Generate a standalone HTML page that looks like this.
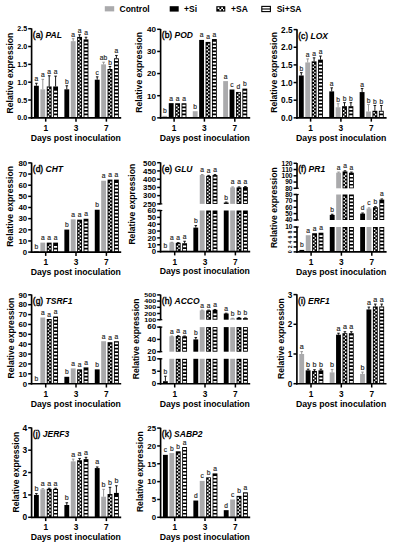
<!DOCTYPE html>
<html><head><meta charset="utf-8"><style>
html,body{margin:0;padding:0;background:#fff;}
svg{display:block;font-family:"Liberation Sans", sans-serif;}
</style></head><body>
<svg width="400" height="550" viewBox="0 0 400 550">
<rect width="400" height="550" fill="#fff"/>
<rect x="104.8" y="6.2" width="9.4" height="5.2" fill="#aaaaac"/><text x="119.5" y="11.7" font-size="8.5" font-weight="bold">Control</text><rect x="169.7" y="6.2" width="9" height="5.4" fill="#000"/><text x="184" y="11.7" font-size="8.5" font-weight="bold">+Si</text><rect x="216.3" y="6.2" width="9" height="5.4" fill="#000"/><path d="M217.6 7.3h1.8v1.6h-1.8zM221.2 7.3h1.8v1.6h-1.8zM219.4 8.9h1.8v1.6h-1.8zM223 8.9h1.2v1.6h-1.2z" fill="#fff"/><text x="231" y="11.7" font-size="8.5" font-weight="bold">+SA</text><rect x="261.8" y="6.4" width="8.6" height="5.2" fill="#fff" stroke="#000" stroke-width="1.1"/><line x1="261.8" y1="9" x2="270.4" y2="9" stroke="#000" stroke-width="1.1"/><text x="276.7" y="11.7" font-size="8.5" font-weight="bold">Si+SA</text>
<rect x="33.97" y="85.76" width="4.85" height="32.09" fill="#000"/><path d="M36.4 85.76V83.26M35.1 83.26h2.6" stroke="#000" stroke-width="0.9" fill="none"/><text x="36.4" y="81.26" font-size="6.7" fill="#222" stroke="#222" stroke-width="0.15" text-anchor="middle">a</text><rect x="40.37" y="89.32" width="4.85" height="28.53" fill="#aaaaac"/><path d="M42.8 89.32V79.34M41.5 79.34h2.6" stroke="#8c8c8c" stroke-width="0.9" fill="none"/><text x="42.8" y="77.34" font-size="6.7" fill="#222" stroke="#222" stroke-width="0.15" text-anchor="middle">a</text><rect x="46.77" y="86.47" width="4.85" height="31.38" fill="#000"/><path d="M47.67 115.4h1.42v1.55h-1.42zM49.3 113.65h1.42v1.55h-1.42zM47.67 111.9h1.42v1.55h-1.42zM49.3 110.15h1.42v1.55h-1.42zM47.67 108.4h1.42v1.55h-1.42zM49.3 106.65h1.42v1.55h-1.42zM47.67 104.9h1.42v1.55h-1.42zM49.3 103.15h1.42v1.55h-1.42zM47.67 101.4h1.42v1.55h-1.42zM49.3 99.65h1.42v1.55h-1.42zM47.67 97.9h1.42v1.55h-1.42zM49.3 96.15h1.42v1.55h-1.42zM47.67 94.4h1.42v1.55h-1.42zM49.3 92.65h1.42v1.55h-1.42zM47.67 90.9h1.42v1.55h-1.42zM49.3 89.15h1.42v1.55h-1.42zM47.67 87.4h1.42v1.55h-1.42z" fill="#fff"/><path d="M49.2 86.47V75.77M47.9 75.77h2.6" stroke="#000" stroke-width="0.9" fill="none"/><text x="49.2" y="73.77" font-size="6.7" fill="#222" stroke="#222" stroke-width="0.15" text-anchor="middle">a</text><rect x="53.17" y="86.47" width="4.85" height="31.38" fill="#000"/><path d="M54.02 115.15h3.15v1.8h-3.15zM54.02 111.65h3.15v1.8h-3.15zM54.02 108.15h3.15v1.8h-3.15zM54.02 104.65h3.15v1.8h-3.15zM54.02 101.15h3.15v1.8h-3.15zM54.02 97.65h3.15v1.8h-3.15zM54.02 94.15h3.15v1.8h-3.15zM54.02 90.65h3.15v1.8h-3.15z" fill="#fff"/><path d="M55.6 86.47V76.13M54.3 76.13h2.6" stroke="#000" stroke-width="0.9" fill="none"/><text x="55.6" y="74.13" font-size="6.7" fill="#222" stroke="#222" stroke-width="0.15" text-anchor="middle">a</text><rect x="64.38" y="89.32" width="4.85" height="28.53" fill="#000"/><path d="M66.8 89.32V85.76M65.5 85.76h2.6" stroke="#000" stroke-width="0.9" fill="none"/><text x="66.8" y="83.76" font-size="6.7" fill="#222" stroke="#222" stroke-width="0.15" text-anchor="middle">b</text><rect x="70.78" y="41.18" width="4.85" height="76.67" fill="#aaaaac"/><path d="M73.2 41.18V38.68M71.9 38.68h2.6" stroke="#8c8c8c" stroke-width="0.9" fill="none"/><text x="73.2" y="36.68" font-size="6.7" fill="#222" stroke="#222" stroke-width="0.15" text-anchor="middle">a</text><rect x="77.17" y="36.9" width="4.85" height="80.95" fill="#000"/><path d="M78.07 115.4h1.42v1.55h-1.42zM79.7 113.65h1.42v1.55h-1.42zM78.07 111.9h1.42v1.55h-1.42zM79.7 110.15h1.42v1.55h-1.42zM78.07 108.4h1.42v1.55h-1.42zM79.7 106.65h1.42v1.55h-1.42zM78.07 104.9h1.42v1.55h-1.42zM79.7 103.15h1.42v1.55h-1.42zM78.07 101.4h1.42v1.55h-1.42zM79.7 99.65h1.42v1.55h-1.42zM78.07 97.9h1.42v1.55h-1.42zM79.7 96.15h1.42v1.55h-1.42zM78.07 94.4h1.42v1.55h-1.42zM79.7 92.65h1.42v1.55h-1.42zM78.07 90.9h1.42v1.55h-1.42zM79.7 89.15h1.42v1.55h-1.42zM78.07 87.4h1.42v1.55h-1.42zM79.7 85.65h1.42v1.55h-1.42zM78.07 83.9h1.42v1.55h-1.42zM79.7 82.15h1.42v1.55h-1.42zM78.07 80.4h1.42v1.55h-1.42zM79.7 78.65h1.42v1.55h-1.42zM78.07 76.9h1.42v1.55h-1.42zM79.7 75.15h1.42v1.55h-1.42zM78.07 73.4h1.42v1.55h-1.42zM79.7 71.65h1.42v1.55h-1.42zM78.07 69.9h1.42v1.55h-1.42zM79.7 68.15h1.42v1.55h-1.42zM78.07 66.4h1.42v1.55h-1.42zM79.7 64.65h1.42v1.55h-1.42zM78.07 62.9h1.42v1.55h-1.42zM79.7 61.15h1.42v1.55h-1.42zM78.07 59.4h1.42v1.55h-1.42zM79.7 57.65h1.42v1.55h-1.42zM78.07 55.9h1.42v1.55h-1.42zM79.7 54.15h1.42v1.55h-1.42zM78.07 52.4h1.42v1.55h-1.42zM79.7 50.65h1.42v1.55h-1.42zM78.07 48.9h1.42v1.55h-1.42zM79.7 47.15h1.42v1.55h-1.42zM78.07 45.4h1.42v1.55h-1.42zM79.7 43.65h1.42v1.55h-1.42zM78.07 41.9h1.42v1.55h-1.42zM79.7 40.15h1.42v1.55h-1.42zM78.07 38.4h1.42v1.55h-1.42z" fill="#fff"/><path d="M79.6 36.9V34.76M78.3 34.76h2.6" stroke="#000" stroke-width="0.9" fill="none"/><text x="79.6" y="32.76" font-size="6.7" fill="#222" stroke="#222" stroke-width="0.15" text-anchor="middle">a</text><rect x="83.58" y="39.4" width="4.85" height="78.45" fill="#000"/><path d="M84.42 115.15h3.15v1.8h-3.15zM84.42 111.65h3.15v1.8h-3.15zM84.42 108.15h3.15v1.8h-3.15zM84.42 104.65h3.15v1.8h-3.15zM84.42 101.15h3.15v1.8h-3.15zM84.42 97.65h3.15v1.8h-3.15zM84.42 94.15h3.15v1.8h-3.15zM84.42 90.65h3.15v1.8h-3.15zM84.42 87.15h3.15v1.8h-3.15zM84.42 83.65h3.15v1.8h-3.15zM84.42 80.15h3.15v1.8h-3.15zM84.42 76.65h3.15v1.8h-3.15zM84.42 73.15h3.15v1.8h-3.15zM84.42 69.65h3.15v1.8h-3.15zM84.42 66.15h3.15v1.8h-3.15zM84.42 62.65h3.15v1.8h-3.15zM84.42 59.15h3.15v1.8h-3.15zM84.42 55.65h3.15v1.8h-3.15zM84.42 52.15h3.15v1.8h-3.15zM84.42 48.65h3.15v1.8h-3.15zM84.42 45.15h3.15v1.8h-3.15zM84.42 41.65h3.15v1.8h-3.15z" fill="#fff"/><path d="M86 39.4V37.26M84.7 37.26h2.6" stroke="#000" stroke-width="0.9" fill="none"/><text x="86" y="35.26" font-size="6.7" fill="#222" stroke="#222" stroke-width="0.15" text-anchor="middle">a</text><rect x="94.78" y="79.69" width="4.85" height="38.16" fill="#000"/><path d="M97.2 79.69V76.84M95.9 76.84h2.6" stroke="#000" stroke-width="0.9" fill="none"/><text x="97.2" y="74.84" font-size="6.7" fill="#222" stroke="#222" stroke-width="0.15" text-anchor="middle">c</text><rect x="101.18" y="64.36" width="4.85" height="53.49" fill="#aaaaac"/><path d="M103.6 64.36V62.22M102.3 62.22h2.6" stroke="#8c8c8c" stroke-width="0.9" fill="none"/><text x="103.6" y="60.22" font-size="6.7" fill="#222" stroke="#222" stroke-width="0.15" text-anchor="middle">ab</text><rect x="107.58" y="69" width="4.85" height="48.85" fill="#000"/><path d="M108.47 115.4h1.42v1.55h-1.42zM110.1 113.65h1.42v1.55h-1.42zM108.47 111.9h1.42v1.55h-1.42zM110.1 110.15h1.42v1.55h-1.42zM108.47 108.4h1.42v1.55h-1.42zM110.1 106.65h1.42v1.55h-1.42zM108.47 104.9h1.42v1.55h-1.42zM110.1 103.15h1.42v1.55h-1.42zM108.47 101.4h1.42v1.55h-1.42zM110.1 99.65h1.42v1.55h-1.42zM108.47 97.9h1.42v1.55h-1.42zM110.1 96.15h1.42v1.55h-1.42zM108.47 94.4h1.42v1.55h-1.42zM110.1 92.65h1.42v1.55h-1.42zM108.47 90.9h1.42v1.55h-1.42zM110.1 89.15h1.42v1.55h-1.42zM108.47 87.4h1.42v1.55h-1.42zM110.1 85.65h1.42v1.55h-1.42zM108.47 83.9h1.42v1.55h-1.42zM110.1 82.15h1.42v1.55h-1.42zM108.47 80.4h1.42v1.55h-1.42zM110.1 78.65h1.42v1.55h-1.42zM108.47 76.9h1.42v1.55h-1.42zM110.1 75.15h1.42v1.55h-1.42zM108.47 73.4h1.42v1.55h-1.42zM110.1 71.65h1.42v1.55h-1.42zM108.47 69.9h1.42v1.55h-1.42z" fill="#fff"/><path d="M110 69V66.5M108.7 66.5h2.6" stroke="#000" stroke-width="0.9" fill="none"/><text x="110" y="64.5" font-size="6.7" fill="#222" stroke="#222" stroke-width="0.15" text-anchor="middle">b</text><rect x="113.98" y="58.3" width="4.85" height="59.55" fill="#000"/><path d="M114.83 115.15h3.15v1.8h-3.15zM114.83 111.65h3.15v1.8h-3.15zM114.83 108.15h3.15v1.8h-3.15zM114.83 104.65h3.15v1.8h-3.15zM114.83 101.15h3.15v1.8h-3.15zM114.83 97.65h3.15v1.8h-3.15zM114.83 94.15h3.15v1.8h-3.15zM114.83 90.65h3.15v1.8h-3.15zM114.83 87.15h3.15v1.8h-3.15zM114.83 83.65h3.15v1.8h-3.15zM114.83 80.15h3.15v1.8h-3.15zM114.83 76.65h3.15v1.8h-3.15zM114.83 73.15h3.15v1.8h-3.15zM114.83 69.65h3.15v1.8h-3.15zM114.83 66.15h3.15v1.8h-3.15zM114.83 62.65h3.15v1.8h-3.15zM114.83 59.15h3.15v1.8h-3.15z" fill="#fff"/><path d="M116.4 58.3V55.45M115.1 55.45h2.6" stroke="#000" stroke-width="0.9" fill="none"/><text x="116.4" y="53.45" font-size="6.7" fill="#222" stroke="#222" stroke-width="0.15" text-anchor="middle">a</text><line x1="31.6" y1="118.67" x2="31.6" y2="28.4" stroke="#000" stroke-width="1.65"/><line x1="28.2" y1="117.85" x2="31.6" y2="117.85" stroke="#000" stroke-width="1.5"/><text x="27.1" y="120.41" font-size="7.1" font-weight="bold" text-anchor="end">0.0</text><line x1="28.2" y1="100.02" x2="31.6" y2="100.02" stroke="#000" stroke-width="1.5"/><text x="27.1" y="102.58" font-size="7.1" font-weight="bold" text-anchor="end">0.5</text><line x1="28.2" y1="82.19" x2="31.6" y2="82.19" stroke="#000" stroke-width="1.5"/><text x="27.1" y="84.75" font-size="7.1" font-weight="bold" text-anchor="end">1.0</text><line x1="28.2" y1="64.36" x2="31.6" y2="64.36" stroke="#000" stroke-width="1.5"/><text x="27.1" y="66.92" font-size="7.1" font-weight="bold" text-anchor="end">1.5</text><line x1="28.2" y1="46.53" x2="31.6" y2="46.53" stroke="#000" stroke-width="1.5"/><text x="27.1" y="49.09" font-size="7.1" font-weight="bold" text-anchor="end">2.0</text><line x1="28.2" y1="28.7" x2="31.6" y2="28.7" stroke="#000" stroke-width="1.5"/><text x="27.1" y="31.26" font-size="7.1" font-weight="bold" text-anchor="end">2.5</text><line x1="30.78" y1="117.85" x2="121.2" y2="117.85" stroke="#000" stroke-width="1.65"/><line x1="45.7" y1="117.85" x2="45.7" y2="121.65" stroke="#000" stroke-width="1.5"/><text x="45.7" y="130.75" font-size="8.3" font-weight="bold" text-anchor="middle">1</text><line x1="76" y1="117.85" x2="76" y2="121.65" stroke="#000" stroke-width="1.5"/><text x="76" y="130.75" font-size="8.3" font-weight="bold" text-anchor="middle">3</text><line x1="106.4" y1="117.85" x2="106.4" y2="121.65" stroke="#000" stroke-width="1.5"/><text x="106.4" y="130.75" font-size="8.3" font-weight="bold" text-anchor="middle">7</text><text x="75.8" y="140.65" font-size="8.7" font-weight="bold" text-anchor="middle">Days post inoculation</text><text transform="translate(12.7 113.4) rotate(-90)" font-size="8.6" font-weight="bold">Relative expression</text><text x="32.8" y="37.8" font-size="8.5"><tspan stroke="#000" stroke-width="0.4">(a)</tspan> <tspan font-weight="bold" font-style="italic">PAL</tspan></text>
<rect x="162.38" y="115.86" width="4.85" height="1.99" fill="#aaaaac"/><text x="164.8" y="113.36" font-size="6.7" fill="#222" stroke="#222" stroke-width="0.15" text-anchor="middle">b</text><rect x="168.78" y="103.13" width="4.85" height="14.72" fill="#000"/><text x="171.2" y="100.63" font-size="6.7" fill="#222" stroke="#222" stroke-width="0.15" text-anchor="middle">a</text><rect x="175.18" y="103.24" width="4.85" height="14.61" fill="#000"/><path d="M176.08 115.4h1.42v1.55h-1.42zM177.7 113.65h1.42v1.55h-1.42zM176.08 111.9h1.42v1.55h-1.42zM177.7 110.15h1.42v1.55h-1.42zM176.08 108.4h1.42v1.55h-1.42zM177.7 106.65h1.42v1.55h-1.42zM176.08 104.9h1.42v1.55h-1.42z" fill="#fff"/><text x="177.6" y="100.74" font-size="6.7" fill="#222" stroke="#222" stroke-width="0.15" text-anchor="middle">a</text><rect x="181.57" y="103.24" width="4.85" height="14.61" fill="#000"/><path d="M182.42 115.15h3.15v1.8h-3.15zM182.42 111.65h3.15v1.8h-3.15zM182.42 108.15h3.15v1.8h-3.15zM182.42 104.65h3.15v1.8h-3.15z" fill="#fff"/><text x="184" y="100.74" font-size="6.7" fill="#222" stroke="#222" stroke-width="0.15" text-anchor="middle">a</text><rect x="192.77" y="111.21" width="4.85" height="6.64" fill="#aaaaac"/><text x="195.2" y="108.71" font-size="6.7" fill="#222" stroke="#222" stroke-width="0.15" text-anchor="middle">b</text><rect x="199.17" y="39.93" width="4.85" height="77.92" fill="#000"/><text x="201.6" y="37.43" font-size="6.7" fill="#222" stroke="#222" stroke-width="0.15" text-anchor="middle">a</text><rect x="205.57" y="41.92" width="4.85" height="75.93" fill="#000"/><path d="M206.47 115.4h1.42v1.55h-1.42zM208.1 113.65h1.42v1.55h-1.42zM206.47 111.9h1.42v1.55h-1.42zM208.1 110.15h1.42v1.55h-1.42zM206.47 108.4h1.42v1.55h-1.42zM208.1 106.65h1.42v1.55h-1.42zM206.47 104.9h1.42v1.55h-1.42zM208.1 103.15h1.42v1.55h-1.42zM206.47 101.4h1.42v1.55h-1.42zM208.1 99.65h1.42v1.55h-1.42zM206.47 97.9h1.42v1.55h-1.42zM208.1 96.15h1.42v1.55h-1.42zM206.47 94.4h1.42v1.55h-1.42zM208.1 92.65h1.42v1.55h-1.42zM206.47 90.9h1.42v1.55h-1.42zM208.1 89.15h1.42v1.55h-1.42zM206.47 87.4h1.42v1.55h-1.42zM208.1 85.65h1.42v1.55h-1.42zM206.47 83.9h1.42v1.55h-1.42zM208.1 82.15h1.42v1.55h-1.42zM206.47 80.4h1.42v1.55h-1.42zM208.1 78.65h1.42v1.55h-1.42zM206.47 76.9h1.42v1.55h-1.42zM208.1 75.15h1.42v1.55h-1.42zM206.47 73.4h1.42v1.55h-1.42zM208.1 71.65h1.42v1.55h-1.42zM206.47 69.9h1.42v1.55h-1.42zM208.1 68.15h1.42v1.55h-1.42zM206.47 66.4h1.42v1.55h-1.42zM208.1 64.65h1.42v1.55h-1.42zM206.47 62.9h1.42v1.55h-1.42zM208.1 61.15h1.42v1.55h-1.42zM206.47 59.4h1.42v1.55h-1.42zM208.1 57.65h1.42v1.55h-1.42zM206.47 55.9h1.42v1.55h-1.42zM208.1 54.15h1.42v1.55h-1.42zM206.47 52.4h1.42v1.55h-1.42zM208.1 50.65h1.42v1.55h-1.42zM206.47 48.9h1.42v1.55h-1.42zM208.1 47.15h1.42v1.55h-1.42zM206.47 45.4h1.42v1.55h-1.42zM208.1 43.65h1.42v1.55h-1.42z" fill="#fff"/><text x="208" y="39.42" font-size="6.7" fill="#222" stroke="#222" stroke-width="0.15" text-anchor="middle">a</text><rect x="211.97" y="39.04" width="4.85" height="78.81" fill="#000"/><path d="M212.82 115.15h3.15v1.8h-3.15zM212.82 111.65h3.15v1.8h-3.15zM212.82 108.15h3.15v1.8h-3.15zM212.82 104.65h3.15v1.8h-3.15zM212.82 101.15h3.15v1.8h-3.15zM212.82 97.65h3.15v1.8h-3.15zM212.82 94.15h3.15v1.8h-3.15zM212.82 90.65h3.15v1.8h-3.15zM212.82 87.15h3.15v1.8h-3.15zM212.82 83.65h3.15v1.8h-3.15zM212.82 80.15h3.15v1.8h-3.15zM212.82 76.65h3.15v1.8h-3.15zM212.82 73.15h3.15v1.8h-3.15zM212.82 69.65h3.15v1.8h-3.15zM212.82 66.15h3.15v1.8h-3.15zM212.82 62.65h3.15v1.8h-3.15zM212.82 59.15h3.15v1.8h-3.15zM212.82 55.65h3.15v1.8h-3.15zM212.82 52.15h3.15v1.8h-3.15zM212.82 48.65h3.15v1.8h-3.15zM212.82 45.15h3.15v1.8h-3.15zM212.82 41.65h3.15v1.8h-3.15z" fill="#fff"/><text x="214.4" y="36.54" font-size="6.7" fill="#222" stroke="#222" stroke-width="0.15" text-anchor="middle">a</text><rect x="223.18" y="81.1" width="4.85" height="36.75" fill="#aaaaac"/><text x="225.6" y="78.6" font-size="6.7" fill="#222" stroke="#222" stroke-width="0.15" text-anchor="middle">a</text><rect x="229.58" y="89.51" width="4.85" height="28.34" fill="#000"/><text x="232" y="87.01" font-size="6.7" fill="#222" stroke="#222" stroke-width="0.15" text-anchor="middle">c</text><rect x="235.98" y="91.95" width="4.85" height="25.9" fill="#000"/><path d="M236.88 115.4h1.42v1.55h-1.42zM238.5 113.65h1.42v1.55h-1.42zM236.88 111.9h1.42v1.55h-1.42zM238.5 110.15h1.42v1.55h-1.42zM236.88 108.4h1.42v1.55h-1.42zM238.5 106.65h1.42v1.55h-1.42zM236.88 104.9h1.42v1.55h-1.42zM238.5 103.15h1.42v1.55h-1.42zM236.88 101.4h1.42v1.55h-1.42zM238.5 99.65h1.42v1.55h-1.42zM236.88 97.9h1.42v1.55h-1.42zM238.5 96.15h1.42v1.55h-1.42zM236.88 94.4h1.42v1.55h-1.42zM238.5 92.65h1.42v1.55h-1.42z" fill="#fff"/><text x="238.4" y="89.45" font-size="6.7" fill="#222" stroke="#222" stroke-width="0.15" text-anchor="middle">d</text><rect x="242.38" y="88.63" width="4.85" height="29.22" fill="#000"/><path d="M243.22 115.15h3.15v1.8h-3.15zM243.22 111.65h3.15v1.8h-3.15zM243.22 108.15h3.15v1.8h-3.15zM243.22 104.65h3.15v1.8h-3.15zM243.22 101.15h3.15v1.8h-3.15zM243.22 97.65h3.15v1.8h-3.15zM243.22 94.15h3.15v1.8h-3.15zM243.22 90.65h3.15v1.8h-3.15z" fill="#fff"/><text x="244.8" y="86.13" font-size="6.7" fill="#222" stroke="#222" stroke-width="0.15" text-anchor="middle">b</text><line x1="160.6" y1="118.67" x2="160.6" y2="29" stroke="#000" stroke-width="1.65"/><line x1="157.2" y1="117.85" x2="160.6" y2="117.85" stroke="#000" stroke-width="1.5"/><text x="156.1" y="120.77" font-size="8.1" font-weight="bold" text-anchor="end">0</text><line x1="157.2" y1="95.71" x2="160.6" y2="95.71" stroke="#000" stroke-width="1.5"/><text x="156.1" y="98.63" font-size="8.1" font-weight="bold" text-anchor="end">10</text><line x1="157.2" y1="73.57" x2="160.6" y2="73.57" stroke="#000" stroke-width="1.5"/><text x="156.1" y="76.49" font-size="8.1" font-weight="bold" text-anchor="end">20</text><line x1="157.2" y1="51.44" x2="160.6" y2="51.44" stroke="#000" stroke-width="1.5"/><text x="156.1" y="54.35" font-size="8.1" font-weight="bold" text-anchor="end">30</text><line x1="157.2" y1="29.3" x2="160.6" y2="29.3" stroke="#000" stroke-width="1.5"/><text x="156.1" y="32.22" font-size="8.1" font-weight="bold" text-anchor="end">40</text><line x1="159.78" y1="117.85" x2="250.2" y2="117.85" stroke="#000" stroke-width="1.65"/><line x1="174.1" y1="117.85" x2="174.1" y2="121.65" stroke="#000" stroke-width="1.5"/><text x="174.1" y="130.75" font-size="8.3" font-weight="bold" text-anchor="middle">1</text><line x1="204.4" y1="117.85" x2="204.4" y2="121.65" stroke="#000" stroke-width="1.5"/><text x="204.4" y="130.75" font-size="8.3" font-weight="bold" text-anchor="middle">3</text><line x1="234.8" y1="117.85" x2="234.8" y2="121.65" stroke="#000" stroke-width="1.5"/><text x="234.8" y="130.75" font-size="8.3" font-weight="bold" text-anchor="middle">7</text><text x="204.8" y="140.65" font-size="8.7" font-weight="bold" text-anchor="middle">Days post inoculation</text><text transform="translate(142.2 112.8) rotate(-90)" font-size="8.6" font-weight="bold">Relative expression</text><text x="161.8" y="38.4" font-size="8.5"><tspan stroke="#000" stroke-width="0.4">(b)</tspan> <tspan font-weight="bold" font-style="italic">POD</tspan></text>
<rect x="298.88" y="75.49" width="4.85" height="42.36" fill="#000"/><path d="M301.3 75.49V72.67M300 72.67h2.6" stroke="#000" stroke-width="0.9" fill="none"/><text x="301.3" y="71.07" font-size="6.7" fill="#222" stroke="#222" stroke-width="0.15" text-anchor="middle">b</text><rect x="305.27" y="62.43" width="4.85" height="55.42" fill="#aaaaac"/><path d="M307.7 62.43V58.9M306.4 58.9h2.6" stroke="#8c8c8c" stroke-width="0.9" fill="none"/><text x="307.7" y="57.3" font-size="6.7" fill="#222" stroke="#222" stroke-width="0.15" text-anchor="middle">a</text><rect x="311.68" y="61.37" width="4.85" height="56.48" fill="#000"/><path d="M312.58 115.4h1.42v1.55h-1.42zM314.2 113.65h1.42v1.55h-1.42zM312.58 111.9h1.42v1.55h-1.42zM314.2 110.15h1.42v1.55h-1.42zM312.58 108.4h1.42v1.55h-1.42zM314.2 106.65h1.42v1.55h-1.42zM312.58 104.9h1.42v1.55h-1.42zM314.2 103.15h1.42v1.55h-1.42zM312.58 101.4h1.42v1.55h-1.42zM314.2 99.65h1.42v1.55h-1.42zM312.58 97.9h1.42v1.55h-1.42zM314.2 96.15h1.42v1.55h-1.42zM312.58 94.4h1.42v1.55h-1.42zM314.2 92.65h1.42v1.55h-1.42zM312.58 90.9h1.42v1.55h-1.42zM314.2 89.15h1.42v1.55h-1.42zM312.58 87.4h1.42v1.55h-1.42zM314.2 85.65h1.42v1.55h-1.42zM312.58 83.9h1.42v1.55h-1.42zM314.2 82.15h1.42v1.55h-1.42zM312.58 80.4h1.42v1.55h-1.42zM314.2 78.65h1.42v1.55h-1.42zM312.58 76.9h1.42v1.55h-1.42zM314.2 75.15h1.42v1.55h-1.42zM312.58 73.4h1.42v1.55h-1.42zM314.2 71.65h1.42v1.55h-1.42zM312.58 69.9h1.42v1.55h-1.42zM314.2 68.15h1.42v1.55h-1.42zM312.58 66.4h1.42v1.55h-1.42zM314.2 64.65h1.42v1.55h-1.42zM312.58 62.9h1.42v1.55h-1.42z" fill="#fff"/><path d="M314.1 61.37V57.84M312.8 57.84h2.6" stroke="#000" stroke-width="0.9" fill="none"/><text x="314.1" y="56.24" font-size="6.7" fill="#222" stroke="#222" stroke-width="0.15" text-anchor="middle">a</text><rect x="318.07" y="59.61" width="4.85" height="58.24" fill="#000"/><path d="M318.93 115.15h3.15v1.8h-3.15zM318.93 111.65h3.15v1.8h-3.15zM318.93 108.15h3.15v1.8h-3.15zM318.93 104.65h3.15v1.8h-3.15zM318.93 101.15h3.15v1.8h-3.15zM318.93 97.65h3.15v1.8h-3.15zM318.93 94.15h3.15v1.8h-3.15zM318.93 90.65h3.15v1.8h-3.15zM318.93 87.15h3.15v1.8h-3.15zM318.93 83.65h3.15v1.8h-3.15zM318.93 80.15h3.15v1.8h-3.15zM318.93 76.65h3.15v1.8h-3.15zM318.93 73.15h3.15v1.8h-3.15zM318.93 69.65h3.15v1.8h-3.15zM318.93 66.15h3.15v1.8h-3.15zM318.93 62.65h3.15v1.8h-3.15z" fill="#fff"/><path d="M320.5 59.61V56.07M319.2 56.07h2.6" stroke="#000" stroke-width="0.9" fill="none"/><text x="320.5" y="54.47" font-size="6.7" fill="#222" stroke="#222" stroke-width="0.15" text-anchor="middle">a</text><rect x="329.28" y="91.38" width="4.85" height="26.47" fill="#000"/><path d="M331.7 91.38V87.84M330.4 87.84h2.6" stroke="#000" stroke-width="0.9" fill="none"/><text x="331.7" y="86.25" font-size="6.7" fill="#222" stroke="#222" stroke-width="0.15" text-anchor="middle">a</text><rect x="335.68" y="107.26" width="4.85" height="10.59" fill="#aaaaac"/><path d="M338.1 107.26V103.73M336.8 103.73h2.6" stroke="#8c8c8c" stroke-width="0.9" fill="none"/><text x="338.1" y="102.13" font-size="6.7" fill="#222" stroke="#222" stroke-width="0.15" text-anchor="middle">b</text><rect x="342.08" y="106.2" width="4.85" height="11.65" fill="#000"/><path d="M342.98 115.4h1.42v1.55h-1.42zM344.6 113.65h1.42v1.55h-1.42zM342.98 111.9h1.42v1.55h-1.42zM344.6 110.15h1.42v1.55h-1.42zM342.98 108.4h1.42v1.55h-1.42z" fill="#fff"/><path d="M344.5 106.2V102.67M343.2 102.67h2.6" stroke="#000" stroke-width="0.9" fill="none"/><text x="344.5" y="101.07" font-size="6.7" fill="#222" stroke="#222" stroke-width="0.15" text-anchor="middle">b</text><rect x="348.48" y="106.2" width="4.85" height="11.65" fill="#000"/><path d="M349.33 115.15h3.15v1.8h-3.15zM349.33 111.65h3.15v1.8h-3.15zM349.33 108.15h3.15v1.8h-3.15z" fill="#fff"/><path d="M350.9 106.2V102.67M349.6 102.67h2.6" stroke="#000" stroke-width="0.9" fill="none"/><text x="350.9" y="101.07" font-size="6.7" fill="#222" stroke="#222" stroke-width="0.15" text-anchor="middle">b</text><rect x="359.68" y="92.08" width="4.85" height="25.77" fill="#000"/><path d="M362.1 92.08V88.55M360.8 88.55h2.6" stroke="#000" stroke-width="0.9" fill="none"/><text x="362.1" y="86.95" font-size="6.7" fill="#222" stroke="#222" stroke-width="0.15" text-anchor="middle">a</text><rect x="366.07" y="111.5" width="4.85" height="6.35" fill="#aaaaac"/><path d="M368.5 111.5V104.44M367.2 104.44h2.6" stroke="#8c8c8c" stroke-width="0.9" fill="none"/><text x="368.5" y="102.84" font-size="6.7" fill="#222" stroke="#222" stroke-width="0.15" text-anchor="middle">b</text><rect x="372.48" y="110.79" width="4.85" height="7.06" fill="#000"/><path d="M373.38 115.4h1.42v1.55h-1.42zM375 113.65h1.42v1.55h-1.42zM373.38 111.9h1.42v1.55h-1.42z" fill="#fff"/><path d="M374.9 110.79V105.49M373.6 105.49h2.6" stroke="#000" stroke-width="0.9" fill="none"/><text x="374.9" y="103.89" font-size="6.7" fill="#222" stroke="#222" stroke-width="0.15" text-anchor="middle">b</text><rect x="378.88" y="110.79" width="4.85" height="7.06" fill="#000"/><path d="M379.73 115.15h3.15v1.8h-3.15zM379.73 111.65h3.15v1.8h-3.15z" fill="#fff"/><path d="M381.3 110.79V105.49M380 105.49h2.6" stroke="#000" stroke-width="0.9" fill="none"/><text x="381.3" y="103.89" font-size="6.7" fill="#222" stroke="#222" stroke-width="0.15" text-anchor="middle">b</text><line x1="297" y1="118.67" x2="297" y2="29.3" stroke="#000" stroke-width="1.65"/><line x1="293.6" y1="117.85" x2="297" y2="117.85" stroke="#000" stroke-width="1.5"/><text x="292.5" y="120.8" font-size="8.2" font-weight="bold" text-anchor="end">0.0</text><line x1="293.6" y1="100.2" x2="297" y2="100.2" stroke="#000" stroke-width="1.5"/><text x="292.5" y="103.15" font-size="8.2" font-weight="bold" text-anchor="end">0.5</text><line x1="293.6" y1="82.55" x2="297" y2="82.55" stroke="#000" stroke-width="1.5"/><text x="292.5" y="85.5" font-size="8.2" font-weight="bold" text-anchor="end">1.0</text><line x1="293.6" y1="64.9" x2="297" y2="64.9" stroke="#000" stroke-width="1.5"/><text x="292.5" y="67.85" font-size="8.2" font-weight="bold" text-anchor="end">1.5</text><line x1="293.6" y1="47.25" x2="297" y2="47.25" stroke="#000" stroke-width="1.5"/><text x="292.5" y="50.2" font-size="8.2" font-weight="bold" text-anchor="end">2.0</text><line x1="293.6" y1="29.6" x2="297" y2="29.6" stroke="#000" stroke-width="1.5"/><text x="292.5" y="32.55" font-size="8.2" font-weight="bold" text-anchor="end">2.5</text><line x1="296.18" y1="117.85" x2="386.6" y2="117.85" stroke="#000" stroke-width="1.65"/><line x1="310.6" y1="117.85" x2="310.6" y2="121.65" stroke="#000" stroke-width="1.5"/><text x="310.6" y="130.75" font-size="8.3" font-weight="bold" text-anchor="middle">1</text><line x1="340.9" y1="117.85" x2="340.9" y2="121.65" stroke="#000" stroke-width="1.5"/><text x="340.9" y="130.75" font-size="8.3" font-weight="bold" text-anchor="middle">3</text><line x1="371.3" y1="117.85" x2="371.3" y2="121.65" stroke="#000" stroke-width="1.5"/><text x="371.3" y="130.75" font-size="8.3" font-weight="bold" text-anchor="middle">7</text><text x="341.2" y="140.65" font-size="8.7" font-weight="bold" text-anchor="middle">Days post inoculation</text><text transform="translate(277.3 112.8) rotate(-90)" font-size="8.6" font-weight="bold">Relative expression</text><text x="298.2" y="38.7" font-size="8.5"><tspan stroke="#000" stroke-width="0.4">(c)</tspan> <tspan font-weight="bold" font-style="italic">LOX</tspan></text>
<rect x="33.97" y="251.54" width="4.85" height="0.56" fill="#000"/><text x="36.4" y="249.04" font-size="6.7" fill="#222" stroke="#222" stroke-width="0.15" text-anchor="middle">b</text><rect x="40.37" y="242.62" width="4.85" height="9.48" fill="#aaaaac"/><text x="42.8" y="240.12" font-size="6.7" fill="#222" stroke="#222" stroke-width="0.15" text-anchor="middle">a</text><rect x="46.77" y="242.62" width="4.85" height="9.48" fill="#000"/><path d="M47.67 249.65h1.42v1.55h-1.42zM49.3 247.9h1.42v1.55h-1.42zM47.67 246.15h1.42v1.55h-1.42zM49.3 244.4h1.42v1.55h-1.42z" fill="#fff"/><text x="49.2" y="240.12" font-size="6.7" fill="#222" stroke="#222" stroke-width="0.15" text-anchor="middle">a</text><rect x="53.17" y="242.62" width="4.85" height="9.48" fill="#000"/><path d="M54.02 249.4h3.15v1.8h-3.15zM54.02 245.9h3.15v1.8h-3.15z" fill="#fff"/><text x="55.6" y="240.12" font-size="6.7" fill="#222" stroke="#222" stroke-width="0.15" text-anchor="middle">a</text><rect x="64.38" y="229.58" width="4.85" height="22.52" fill="#000"/><text x="66.8" y="227.08" font-size="6.7" fill="#222" stroke="#222" stroke-width="0.15" text-anchor="middle">b</text><rect x="70.78" y="219.32" width="4.85" height="32.78" fill="#aaaaac"/><text x="73.2" y="216.82" font-size="6.7" fill="#222" stroke="#222" stroke-width="0.15" text-anchor="middle">a</text><rect x="77.17" y="219.65" width="4.85" height="32.45" fill="#000"/><path d="M78.07 249.65h1.42v1.55h-1.42zM79.7 247.9h1.42v1.55h-1.42zM78.07 246.15h1.42v1.55h-1.42zM79.7 244.4h1.42v1.55h-1.42zM78.07 242.65h1.42v1.55h-1.42zM79.7 240.9h1.42v1.55h-1.42zM78.07 239.15h1.42v1.55h-1.42zM79.7 237.4h1.42v1.55h-1.42zM78.07 235.65h1.42v1.55h-1.42zM79.7 233.9h1.42v1.55h-1.42zM78.07 232.15h1.42v1.55h-1.42zM79.7 230.4h1.42v1.55h-1.42zM78.07 228.65h1.42v1.55h-1.42zM79.7 226.9h1.42v1.55h-1.42zM78.07 225.15h1.42v1.55h-1.42zM79.7 223.4h1.42v1.55h-1.42zM78.07 221.65h1.42v1.55h-1.42z" fill="#fff"/><text x="79.6" y="217.15" font-size="6.7" fill="#222" stroke="#222" stroke-width="0.15" text-anchor="middle">a</text><rect x="83.58" y="218.76" width="4.85" height="33.34" fill="#000"/><path d="M84.42 249.4h3.15v1.8h-3.15zM84.42 245.9h3.15v1.8h-3.15zM84.42 242.4h3.15v1.8h-3.15zM84.42 238.9h3.15v1.8h-3.15zM84.42 235.4h3.15v1.8h-3.15zM84.42 231.9h3.15v1.8h-3.15zM84.42 228.4h3.15v1.8h-3.15zM84.42 224.9h3.15v1.8h-3.15zM84.42 221.4h3.15v1.8h-3.15z" fill="#fff"/><text x="86" y="216.26" font-size="6.7" fill="#222" stroke="#222" stroke-width="0.15" text-anchor="middle">a</text><rect x="94.78" y="209.73" width="4.85" height="42.37" fill="#000"/><text x="97.2" y="207.23" font-size="6.7" fill="#222" stroke="#222" stroke-width="0.15" text-anchor="middle">b</text><rect x="101.18" y="180.74" width="4.85" height="71.36" fill="#aaaaac"/><text x="103.6" y="178.24" font-size="6.7" fill="#222" stroke="#222" stroke-width="0.15" text-anchor="middle">a</text><rect x="107.58" y="179.62" width="4.85" height="72.47" fill="#000"/><path d="M108.47 249.65h1.42v1.55h-1.42zM110.1 247.9h1.42v1.55h-1.42zM108.47 246.15h1.42v1.55h-1.42zM110.1 244.4h1.42v1.55h-1.42zM108.47 242.65h1.42v1.55h-1.42zM110.1 240.9h1.42v1.55h-1.42zM108.47 239.15h1.42v1.55h-1.42zM110.1 237.4h1.42v1.55h-1.42zM108.47 235.65h1.42v1.55h-1.42zM110.1 233.9h1.42v1.55h-1.42zM108.47 232.15h1.42v1.55h-1.42zM110.1 230.4h1.42v1.55h-1.42zM108.47 228.65h1.42v1.55h-1.42zM110.1 226.9h1.42v1.55h-1.42zM108.47 225.15h1.42v1.55h-1.42zM110.1 223.4h1.42v1.55h-1.42zM108.47 221.65h1.42v1.55h-1.42zM110.1 219.9h1.42v1.55h-1.42zM108.47 218.15h1.42v1.55h-1.42zM110.1 216.4h1.42v1.55h-1.42zM108.47 214.65h1.42v1.55h-1.42zM110.1 212.9h1.42v1.55h-1.42zM108.47 211.15h1.42v1.55h-1.42zM110.1 209.4h1.42v1.55h-1.42zM108.47 207.65h1.42v1.55h-1.42zM110.1 205.9h1.42v1.55h-1.42zM108.47 204.15h1.42v1.55h-1.42zM110.1 202.4h1.42v1.55h-1.42zM108.47 200.65h1.42v1.55h-1.42zM110.1 198.9h1.42v1.55h-1.42zM108.47 197.15h1.42v1.55h-1.42zM110.1 195.4h1.42v1.55h-1.42zM108.47 193.65h1.42v1.55h-1.42zM110.1 191.9h1.42v1.55h-1.42zM108.47 190.15h1.42v1.55h-1.42zM110.1 188.4h1.42v1.55h-1.42zM108.47 186.65h1.42v1.55h-1.42zM110.1 184.9h1.42v1.55h-1.42zM108.47 183.15h1.42v1.55h-1.42zM110.1 181.4h1.42v1.55h-1.42z" fill="#fff"/><text x="110" y="177.12" font-size="6.7" fill="#222" stroke="#222" stroke-width="0.15" text-anchor="middle">a</text><rect x="113.98" y="179.62" width="4.85" height="72.47" fill="#000"/><path d="M114.83 249.4h3.15v1.8h-3.15zM114.83 245.9h3.15v1.8h-3.15zM114.83 242.4h3.15v1.8h-3.15zM114.83 238.9h3.15v1.8h-3.15zM114.83 235.4h3.15v1.8h-3.15zM114.83 231.9h3.15v1.8h-3.15zM114.83 228.4h3.15v1.8h-3.15zM114.83 224.9h3.15v1.8h-3.15zM114.83 221.4h3.15v1.8h-3.15zM114.83 217.9h3.15v1.8h-3.15zM114.83 214.4h3.15v1.8h-3.15zM114.83 210.9h3.15v1.8h-3.15zM114.83 207.4h3.15v1.8h-3.15zM114.83 203.9h3.15v1.8h-3.15zM114.83 200.4h3.15v1.8h-3.15zM114.83 196.9h3.15v1.8h-3.15zM114.83 193.4h3.15v1.8h-3.15zM114.83 189.9h3.15v1.8h-3.15zM114.83 186.4h3.15v1.8h-3.15zM114.83 182.9h3.15v1.8h-3.15z" fill="#fff"/><text x="116.4" y="177.12" font-size="6.7" fill="#222" stroke="#222" stroke-width="0.15" text-anchor="middle">a</text><line x1="31.6" y1="252.92" x2="31.6" y2="162.6" stroke="#000" stroke-width="1.65"/><line x1="28.2" y1="252.1" x2="31.6" y2="252.1" stroke="#000" stroke-width="1.5"/><text x="27.1" y="254.91" font-size="7.8" font-weight="bold" text-anchor="end">0</text><line x1="28.2" y1="240.95" x2="31.6" y2="240.95" stroke="#000" stroke-width="1.5"/><text x="27.1" y="243.76" font-size="7.8" font-weight="bold" text-anchor="end">10</text><line x1="28.2" y1="229.8" x2="31.6" y2="229.8" stroke="#000" stroke-width="1.5"/><text x="27.1" y="232.61" font-size="7.8" font-weight="bold" text-anchor="end">20</text><line x1="28.2" y1="218.65" x2="31.6" y2="218.65" stroke="#000" stroke-width="1.5"/><text x="27.1" y="221.46" font-size="7.8" font-weight="bold" text-anchor="end">30</text><line x1="28.2" y1="207.5" x2="31.6" y2="207.5" stroke="#000" stroke-width="1.5"/><text x="27.1" y="210.31" font-size="7.8" font-weight="bold" text-anchor="end">40</text><line x1="28.2" y1="196.35" x2="31.6" y2="196.35" stroke="#000" stroke-width="1.5"/><text x="27.1" y="199.16" font-size="7.8" font-weight="bold" text-anchor="end">50</text><line x1="28.2" y1="185.2" x2="31.6" y2="185.2" stroke="#000" stroke-width="1.5"/><text x="27.1" y="188.01" font-size="7.8" font-weight="bold" text-anchor="end">60</text><line x1="28.2" y1="174.05" x2="31.6" y2="174.05" stroke="#000" stroke-width="1.5"/><text x="27.1" y="176.86" font-size="7.8" font-weight="bold" text-anchor="end">70</text><line x1="28.2" y1="162.9" x2="31.6" y2="162.9" stroke="#000" stroke-width="1.5"/><text x="27.1" y="165.71" font-size="7.8" font-weight="bold" text-anchor="end">80</text><line x1="30.78" y1="252.1" x2="121.2" y2="252.1" stroke="#000" stroke-width="1.65"/><line x1="45.7" y1="252.1" x2="45.7" y2="255.9" stroke="#000" stroke-width="1.5"/><text x="45.7" y="265" font-size="8.3" font-weight="bold" text-anchor="middle">1</text><line x1="76" y1="252.1" x2="76" y2="255.9" stroke="#000" stroke-width="1.5"/><text x="76" y="265" font-size="8.3" font-weight="bold" text-anchor="middle">3</text><line x1="106.4" y1="252.1" x2="106.4" y2="255.9" stroke="#000" stroke-width="1.5"/><text x="106.4" y="265" font-size="8.3" font-weight="bold" text-anchor="middle">7</text><text x="75.8" y="274.9" font-size="8.7" font-weight="bold" text-anchor="middle">Days post inoculation</text><text transform="translate(12.9 246.85) rotate(-90)" font-size="8.6" font-weight="bold">Relative expression</text><text x="32.8" y="172" font-size="8.5"><tspan stroke="#000" stroke-width="0.4">(d)</tspan> <tspan font-weight="bold" font-style="italic">CHT</tspan></text>
<rect x="162.97" y="250.91" width="4.85" height="0.69" fill="#000"/><text x="165.4" y="248.41" font-size="6.7" fill="#222" stroke="#222" stroke-width="0.15" text-anchor="middle">b</text><rect x="169.38" y="242.49" width="4.85" height="9.11" fill="#aaaaac"/><path d="M171.8 242.49V242.28M170.5 242.28h2.6" stroke="#8c8c8c" stroke-width="0.9" fill="none"/><text x="171.8" y="239.78" font-size="6.7" fill="#222" stroke="#222" stroke-width="0.15" text-anchor="middle">a</text><rect x="175.78" y="242.83" width="4.85" height="8.77" fill="#000"/><path d="M176.68 249.15h1.42v1.55h-1.42zM178.3 247.4h1.42v1.55h-1.42zM176.68 245.65h1.42v1.55h-1.42zM178.3 243.9h1.42v1.55h-1.42z" fill="#fff"/><path d="M178.2 242.83V242.63M176.9 242.63h2.6" stroke="#000" stroke-width="0.9" fill="none"/><text x="178.2" y="240.13" font-size="6.7" fill="#222" stroke="#222" stroke-width="0.15" text-anchor="middle">a</text><rect x="182.18" y="243.24" width="4.85" height="8.36" fill="#000"/><path d="M183.03 248.9h3.15v1.8h-3.15zM183.03 245.4h3.15v1.8h-3.15z" fill="#fff"/><path d="M184.6 243.24V241.26M183.3 241.26h2.6" stroke="#000" stroke-width="0.9" fill="none"/><text x="184.6" y="238.76" font-size="6.7" fill="#222" stroke="#222" stroke-width="0.15" text-anchor="middle">a</text><rect x="193.37" y="227.62" width="4.85" height="23.97" fill="#000"/><path d="M195.8 227.62V225.57M194.5 225.57h2.6" stroke="#000" stroke-width="0.9" fill="none"/><text x="195.8" y="223.07" font-size="6.7" fill="#222" stroke="#222" stroke-width="0.15" text-anchor="middle">b</text><rect x="199.77" y="210.5" width="4.85" height="41.1" fill="#aaaaac"/><rect x="199.77" y="175.06" width="4.85" height="28.84" fill="#aaaaac"/><path d="M202.2 175.06V174.57M200.9 174.57h2.6" stroke="#8c8c8c" stroke-width="0.9" fill="none"/><text x="202.2" y="172.07" font-size="6.7" fill="#222" stroke="#222" stroke-width="0.15" text-anchor="middle">a</text><rect x="206.17" y="210.5" width="4.85" height="41.1" fill="#000"/><path d="M207.07 249.15h1.42v1.55h-1.42zM208.7 247.4h1.42v1.55h-1.42zM207.07 245.65h1.42v1.55h-1.42zM208.7 243.9h1.42v1.55h-1.42zM207.07 242.15h1.42v1.55h-1.42zM208.7 240.4h1.42v1.55h-1.42zM207.07 238.65h1.42v1.55h-1.42zM208.7 236.9h1.42v1.55h-1.42zM207.07 235.15h1.42v1.55h-1.42zM208.7 233.4h1.42v1.55h-1.42zM207.07 231.65h1.42v1.55h-1.42zM208.7 229.9h1.42v1.55h-1.42zM207.07 228.15h1.42v1.55h-1.42zM208.7 226.4h1.42v1.55h-1.42zM207.07 224.65h1.42v1.55h-1.42zM208.7 222.9h1.42v1.55h-1.42zM207.07 221.15h1.42v1.55h-1.42zM208.7 219.4h1.42v1.55h-1.42zM207.07 217.65h1.42v1.55h-1.42zM208.7 215.9h1.42v1.55h-1.42zM207.07 214.15h1.42v1.55h-1.42zM208.7 212.4h1.42v1.55h-1.42z" fill="#fff"/><rect x="206.17" y="175.88" width="4.85" height="28.02" fill="#000"/><path d="M207.07 201.45h1.42v1.55h-1.42zM208.7 199.7h1.42v1.55h-1.42zM207.07 197.95h1.42v1.55h-1.42zM208.7 196.2h1.42v1.55h-1.42zM207.07 194.45h1.42v1.55h-1.42zM208.7 192.7h1.42v1.55h-1.42zM207.07 190.95h1.42v1.55h-1.42zM208.7 189.2h1.42v1.55h-1.42zM207.07 187.45h1.42v1.55h-1.42zM208.7 185.7h1.42v1.55h-1.42zM207.07 183.95h1.42v1.55h-1.42zM208.7 182.2h1.42v1.55h-1.42zM207.07 180.45h1.42v1.55h-1.42zM208.7 178.7h1.42v1.55h-1.42zM207.07 176.95h1.42v1.55h-1.42z" fill="#fff"/><path d="M208.6 175.88V175.39M207.3 175.39h2.6" stroke="#000" stroke-width="0.9" fill="none"/><text x="208.6" y="172.89" font-size="6.7" fill="#222" stroke="#222" stroke-width="0.15" text-anchor="middle">a</text><rect x="212.57" y="210.5" width="4.85" height="41.1" fill="#000"/><path d="M213.42 248.9h3.15v1.8h-3.15zM213.42 245.4h3.15v1.8h-3.15zM213.42 241.9h3.15v1.8h-3.15zM213.42 238.4h3.15v1.8h-3.15zM213.42 234.9h3.15v1.8h-3.15zM213.42 231.4h3.15v1.8h-3.15zM213.42 227.9h3.15v1.8h-3.15zM213.42 224.4h3.15v1.8h-3.15zM213.42 220.9h3.15v1.8h-3.15zM213.42 217.4h3.15v1.8h-3.15zM213.42 213.9h3.15v1.8h-3.15z" fill="#fff"/><rect x="212.57" y="175.06" width="4.85" height="28.84" fill="#000"/><path d="M213.42 201.2h3.15v1.8h-3.15zM213.42 197.7h3.15v1.8h-3.15zM213.42 194.2h3.15v1.8h-3.15zM213.42 190.7h3.15v1.8h-3.15zM213.42 187.2h3.15v1.8h-3.15zM213.42 183.7h3.15v1.8h-3.15zM213.42 180.2h3.15v1.8h-3.15zM213.42 176.7h3.15v1.8h-3.15z" fill="#fff"/><path d="M215 175.06V174.57M213.7 174.57h2.6" stroke="#000" stroke-width="0.9" fill="none"/><text x="215" y="172.07" font-size="6.7" fill="#222" stroke="#222" stroke-width="0.15" text-anchor="middle">a</text><rect x="223.78" y="210.5" width="4.85" height="41.1" fill="#000"/><rect x="223.78" y="202.58" width="4.85" height="1.32" fill="#000"/><path d="M226.2 202.58V202.09M224.9 202.09h2.6" stroke="#000" stroke-width="0.9" fill="none"/><text x="226.2" y="199.59" font-size="6.7" fill="#222" stroke="#222" stroke-width="0.15" text-anchor="middle">b</text><rect x="230.18" y="210.5" width="4.85" height="41.1" fill="#aaaaac"/><rect x="230.18" y="187.42" width="4.85" height="16.48" fill="#aaaaac"/><path d="M232.6 187.42V186.93M231.3 186.93h2.6" stroke="#8c8c8c" stroke-width="0.9" fill="none"/><text x="232.6" y="184.43" font-size="6.7" fill="#222" stroke="#222" stroke-width="0.15" text-anchor="middle">a</text><rect x="236.58" y="210.5" width="4.85" height="41.1" fill="#000"/><path d="M237.48 249.15h1.42v1.55h-1.42zM239.1 247.4h1.42v1.55h-1.42zM237.48 245.65h1.42v1.55h-1.42zM239.1 243.9h1.42v1.55h-1.42zM237.48 242.15h1.42v1.55h-1.42zM239.1 240.4h1.42v1.55h-1.42zM237.48 238.65h1.42v1.55h-1.42zM239.1 236.9h1.42v1.55h-1.42zM237.48 235.15h1.42v1.55h-1.42zM239.1 233.4h1.42v1.55h-1.42zM237.48 231.65h1.42v1.55h-1.42zM239.1 229.9h1.42v1.55h-1.42zM237.48 228.15h1.42v1.55h-1.42zM239.1 226.4h1.42v1.55h-1.42zM237.48 224.65h1.42v1.55h-1.42zM239.1 222.9h1.42v1.55h-1.42zM237.48 221.15h1.42v1.55h-1.42zM239.1 219.4h1.42v1.55h-1.42zM237.48 217.65h1.42v1.55h-1.42zM239.1 215.9h1.42v1.55h-1.42zM237.48 214.15h1.42v1.55h-1.42zM239.1 212.4h1.42v1.55h-1.42z" fill="#fff"/><rect x="236.58" y="187.42" width="4.85" height="16.48" fill="#000"/><path d="M237.48 201.45h1.42v1.55h-1.42zM239.1 199.7h1.42v1.55h-1.42zM237.48 197.95h1.42v1.55h-1.42zM239.1 196.2h1.42v1.55h-1.42zM237.48 194.45h1.42v1.55h-1.42zM239.1 192.7h1.42v1.55h-1.42zM237.48 190.95h1.42v1.55h-1.42zM239.1 189.2h1.42v1.55h-1.42z" fill="#fff"/><path d="M239 187.42V186.93M237.7 186.93h2.6" stroke="#000" stroke-width="0.9" fill="none"/><text x="239" y="184.43" font-size="6.7" fill="#222" stroke="#222" stroke-width="0.15" text-anchor="middle">a</text><rect x="242.98" y="210.5" width="4.85" height="41.1" fill="#000"/><path d="M243.83 248.9h3.15v1.8h-3.15zM243.83 245.4h3.15v1.8h-3.15zM243.83 241.9h3.15v1.8h-3.15zM243.83 238.4h3.15v1.8h-3.15zM243.83 234.9h3.15v1.8h-3.15zM243.83 231.4h3.15v1.8h-3.15zM243.83 227.9h3.15v1.8h-3.15zM243.83 224.4h3.15v1.8h-3.15zM243.83 220.9h3.15v1.8h-3.15zM243.83 217.4h3.15v1.8h-3.15zM243.83 213.9h3.15v1.8h-3.15z" fill="#fff"/><rect x="242.98" y="187.09" width="4.85" height="16.81" fill="#000"/><path d="M243.83 201.2h3.15v1.8h-3.15zM243.83 197.7h3.15v1.8h-3.15zM243.83 194.2h3.15v1.8h-3.15zM243.83 190.7h3.15v1.8h-3.15z" fill="#fff"/><path d="M245.4 187.09V186.6M244.1 186.6h2.6" stroke="#000" stroke-width="0.9" fill="none"/><text x="245.4" y="184.1" font-size="6.7" fill="#222" stroke="#222" stroke-width="0.15" text-anchor="middle">a</text><line x1="160.6" y1="252.42" x2="160.6" y2="210.2" stroke="#000" stroke-width="1.65"/><line x1="157.2" y1="251.6" x2="160.6" y2="251.6" stroke="#000" stroke-width="1.5"/><text x="156.1" y="254.41" font-size="7.8" font-weight="bold" text-anchor="end">0</text><line x1="157.2" y1="244.75" x2="160.6" y2="244.75" stroke="#000" stroke-width="1.5"/><text x="156.1" y="247.56" font-size="7.8" font-weight="bold" text-anchor="end">10</text><line x1="157.2" y1="237.9" x2="160.6" y2="237.9" stroke="#000" stroke-width="1.5"/><text x="156.1" y="240.71" font-size="7.8" font-weight="bold" text-anchor="end">20</text><line x1="157.2" y1="231.05" x2="160.6" y2="231.05" stroke="#000" stroke-width="1.5"/><text x="156.1" y="233.86" font-size="7.8" font-weight="bold" text-anchor="end">30</text><line x1="157.2" y1="224.2" x2="160.6" y2="224.2" stroke="#000" stroke-width="1.5"/><text x="156.1" y="227.01" font-size="7.8" font-weight="bold" text-anchor="end">40</text><line x1="157.2" y1="217.35" x2="160.6" y2="217.35" stroke="#000" stroke-width="1.5"/><text x="156.1" y="220.16" font-size="7.8" font-weight="bold" text-anchor="end">50</text><line x1="157.2" y1="210.5" x2="160.6" y2="210.5" stroke="#000" stroke-width="1.5"/><text x="156.1" y="213.31" font-size="7.8" font-weight="bold" text-anchor="end">60</text><line x1="158.9" y1="210.5" x2="162.3" y2="210.5" stroke="#000" stroke-width="1.2"/><line x1="160.6" y1="203.9" x2="160.6" y2="162.4" stroke="#000" stroke-width="1.65"/><line x1="157.2" y1="203.9" x2="160.6" y2="203.9" stroke="#000" stroke-width="1.5"/><text x="156.1" y="206.71" font-size="7.8" font-weight="bold" text-anchor="end">250</text><line x1="157.2" y1="195.66" x2="160.6" y2="195.66" stroke="#000" stroke-width="1.5"/><text x="156.1" y="198.47" font-size="7.8" font-weight="bold" text-anchor="end">300</text><line x1="157.2" y1="187.42" x2="160.6" y2="187.42" stroke="#000" stroke-width="1.5"/><text x="156.1" y="190.23" font-size="7.8" font-weight="bold" text-anchor="end">350</text><line x1="157.2" y1="179.18" x2="160.6" y2="179.18" stroke="#000" stroke-width="1.5"/><text x="156.1" y="181.99" font-size="7.8" font-weight="bold" text-anchor="end">400</text><line x1="157.2" y1="170.94" x2="160.6" y2="170.94" stroke="#000" stroke-width="1.5"/><text x="156.1" y="173.75" font-size="7.8" font-weight="bold" text-anchor="end">450</text><line x1="157.2" y1="162.7" x2="160.6" y2="162.7" stroke="#000" stroke-width="1.5"/><text x="156.1" y="165.51" font-size="7.8" font-weight="bold" text-anchor="end">500</text><line x1="158.9" y1="203.9" x2="162.3" y2="203.9" stroke="#000" stroke-width="1.2"/><line x1="159.78" y1="251.6" x2="250.2" y2="251.6" stroke="#000" stroke-width="1.65"/><line x1="174.7" y1="251.6" x2="174.7" y2="255.4" stroke="#000" stroke-width="1.5"/><text x="174.7" y="264.5" font-size="8.3" font-weight="bold" text-anchor="middle">1</text><line x1="205" y1="251.6" x2="205" y2="255.4" stroke="#000" stroke-width="1.5"/><text x="205" y="264.5" font-size="8.3" font-weight="bold" text-anchor="middle">3</text><line x1="235.4" y1="251.6" x2="235.4" y2="255.4" stroke="#000" stroke-width="1.5"/><text x="235.4" y="264.5" font-size="8.3" font-weight="bold" text-anchor="middle">7</text><text x="204.8" y="274.4" font-size="8.7" font-weight="bold" text-anchor="middle">Days post inoculation</text><text transform="translate(134.5 244.6) rotate(-90)" font-size="8.6" font-weight="bold">Relative expression</text><text x="161.8" y="171.8" font-size="8.5"><tspan stroke="#000" stroke-width="0.4">(e)</tspan> <tspan font-weight="bold" font-style="italic">GLU</tspan></text>
<rect x="299.38" y="249.91" width="4.85" height="1.99" fill="#000"/><text x="301.8" y="247.41" font-size="6.7" fill="#222" stroke="#222" stroke-width="0.15" text-anchor="middle">b</text><rect x="305.77" y="235.22" width="4.85" height="16.68" fill="#aaaaac"/><text x="308.2" y="232.72" font-size="6.7" fill="#222" stroke="#222" stroke-width="0.15" text-anchor="middle">a</text><rect x="312.18" y="233.22" width="4.85" height="18.68" fill="#000"/><path d="M313.08 249.45h1.42v1.55h-1.42zM314.7 247.7h1.42v1.55h-1.42zM313.08 245.95h1.42v1.55h-1.42zM314.7 244.2h1.42v1.55h-1.42zM313.08 242.45h1.42v1.55h-1.42zM314.7 240.7h1.42v1.55h-1.42zM313.08 238.95h1.42v1.55h-1.42zM314.7 237.2h1.42v1.55h-1.42zM313.08 235.45h1.42v1.55h-1.42z" fill="#fff"/><text x="314.6" y="230.72" font-size="6.7" fill="#222" stroke="#222" stroke-width="0.15" text-anchor="middle">a</text><rect x="318.57" y="232.73" width="4.85" height="19.17" fill="#000"/><path d="M319.43 249.2h3.15v1.8h-3.15zM319.43 245.7h3.15v1.8h-3.15zM319.43 242.2h3.15v1.8h-3.15zM319.43 238.7h3.15v1.8h-3.15zM319.43 235.2h3.15v1.8h-3.15z" fill="#fff"/><text x="321" y="230.23" font-size="6.7" fill="#222" stroke="#222" stroke-width="0.15" text-anchor="middle">a</text><rect x="329.78" y="227" width="4.85" height="24.9" fill="#000"/><rect x="329.78" y="214.9" width="4.85" height="5.1" fill="#000"/><path d="M332.2 214.9V214.26M330.9 214.26h2.6" stroke="#000" stroke-width="0.9" fill="none"/><text x="332.2" y="211.76" font-size="6.7" fill="#222" stroke="#222" stroke-width="0.15" text-anchor="middle">b</text><rect x="336.18" y="227" width="4.85" height="24.9" fill="#aaaaac"/><rect x="336.18" y="194.5" width="4.85" height="25.5" fill="#aaaaac"/><rect x="336.18" y="172.68" width="4.85" height="15.62" fill="#aaaaac"/><path d="M338.6 172.68V172.05M337.3 172.05h2.6" stroke="#8c8c8c" stroke-width="0.9" fill="none"/><text x="338.6" y="169.55" font-size="6.7" fill="#222" stroke="#222" stroke-width="0.15" text-anchor="middle">a</text><rect x="342.58" y="227" width="4.85" height="24.9" fill="#000"/><path d="M343.48 249.45h1.42v1.55h-1.42zM345.1 247.7h1.42v1.55h-1.42zM343.48 245.95h1.42v1.55h-1.42zM345.1 244.2h1.42v1.55h-1.42zM343.48 242.45h1.42v1.55h-1.42zM345.1 240.7h1.42v1.55h-1.42zM343.48 238.95h1.42v1.55h-1.42zM345.1 237.2h1.42v1.55h-1.42zM343.48 235.45h1.42v1.55h-1.42zM345.1 233.7h1.42v1.55h-1.42zM343.48 231.95h1.42v1.55h-1.42zM345.1 230.2h1.42v1.55h-1.42zM343.48 228.45h1.42v1.55h-1.42z" fill="#fff"/><rect x="342.58" y="194.5" width="4.85" height="25.5" fill="#000"/><path d="M343.48 217.55h1.42v1.55h-1.42zM345.1 215.8h1.42v1.55h-1.42zM343.48 214.05h1.42v1.55h-1.42zM345.1 212.3h1.42v1.55h-1.42zM343.48 210.55h1.42v1.55h-1.42zM345.1 208.8h1.42v1.55h-1.42zM343.48 207.05h1.42v1.55h-1.42zM345.1 205.3h1.42v1.55h-1.42zM343.48 203.55h1.42v1.55h-1.42zM345.1 201.8h1.42v1.55h-1.42zM343.48 200.05h1.42v1.55h-1.42zM345.1 198.3h1.42v1.55h-1.42zM343.48 196.55h1.42v1.55h-1.42z" fill="#fff"/><rect x="342.58" y="171.43" width="4.85" height="16.88" fill="#000"/><path d="M343.48 185.85h1.42v1.55h-1.42zM345.1 184.1h1.42v1.55h-1.42zM343.48 182.35h1.42v1.55h-1.42zM345.1 180.6h1.42v1.55h-1.42zM343.48 178.85h1.42v1.55h-1.42zM345.1 177.1h1.42v1.55h-1.42zM343.48 175.35h1.42v1.55h-1.42zM345.1 173.6h1.42v1.55h-1.42z" fill="#fff"/><path d="M345 171.43V170.8M343.7 170.8h2.6" stroke="#000" stroke-width="0.9" fill="none"/><text x="345" y="168.3" font-size="6.7" fill="#222" stroke="#222" stroke-width="0.15" text-anchor="middle">a</text><rect x="348.98" y="227" width="4.85" height="24.9" fill="#000"/><path d="M349.83 249.2h3.15v1.8h-3.15zM349.83 245.7h3.15v1.8h-3.15zM349.83 242.2h3.15v1.8h-3.15zM349.83 238.7h3.15v1.8h-3.15zM349.83 235.2h3.15v1.8h-3.15zM349.83 231.7h3.15v1.8h-3.15zM349.83 228.2h3.15v1.8h-3.15z" fill="#fff"/><rect x="348.98" y="194.5" width="4.85" height="25.5" fill="#000"/><path d="M349.83 217.3h3.15v1.8h-3.15zM349.83 213.8h3.15v1.8h-3.15zM349.83 210.3h3.15v1.8h-3.15zM349.83 206.8h3.15v1.8h-3.15zM349.83 203.3h3.15v1.8h-3.15zM349.83 199.8h3.15v1.8h-3.15zM349.83 196.3h3.15v1.8h-3.15z" fill="#fff"/><rect x="348.98" y="172.68" width="4.85" height="15.62" fill="#000"/><path d="M349.83 185.6h3.15v1.8h-3.15zM349.83 182.1h3.15v1.8h-3.15zM349.83 178.6h3.15v1.8h-3.15zM349.83 175.1h3.15v1.8h-3.15z" fill="#fff"/><path d="M351.4 172.68V172.05M350.1 172.05h2.6" stroke="#000" stroke-width="0.9" fill="none"/><text x="351.4" y="169.55" font-size="6.7" fill="#222" stroke="#222" stroke-width="0.15" text-anchor="middle">a</text><rect x="360.18" y="227" width="4.85" height="24.9" fill="#000"/><rect x="360.18" y="213.62" width="4.85" height="6.38" fill="#000"/><path d="M362.6 213.62V212.99M361.3 212.99h2.6" stroke="#000" stroke-width="0.9" fill="none"/><text x="362.6" y="210.49" font-size="6.7" fill="#222" stroke="#222" stroke-width="0.15" text-anchor="middle">d</text><rect x="366.57" y="227" width="4.85" height="24.9" fill="#aaaaac"/><rect x="366.57" y="208.53" width="4.85" height="11.47" fill="#aaaaac"/><path d="M369 208.53V207.89M367.7 207.89h2.6" stroke="#8c8c8c" stroke-width="0.9" fill="none"/><text x="369" y="205.39" font-size="6.7" fill="#222" stroke="#222" stroke-width="0.15" text-anchor="middle">c</text><rect x="372.98" y="227" width="4.85" height="24.9" fill="#000"/><path d="M373.88 249.45h1.42v1.55h-1.42zM375.5 247.7h1.42v1.55h-1.42zM373.88 245.95h1.42v1.55h-1.42zM375.5 244.2h1.42v1.55h-1.42zM373.88 242.45h1.42v1.55h-1.42zM375.5 240.7h1.42v1.55h-1.42zM373.88 238.95h1.42v1.55h-1.42zM375.5 237.2h1.42v1.55h-1.42zM373.88 235.45h1.42v1.55h-1.42zM375.5 233.7h1.42v1.55h-1.42zM373.88 231.95h1.42v1.55h-1.42zM375.5 230.2h1.42v1.55h-1.42zM373.88 228.45h1.42v1.55h-1.42z" fill="#fff"/><rect x="372.98" y="207.25" width="4.85" height="12.75" fill="#000"/><path d="M373.88 217.55h1.42v1.55h-1.42zM375.5 215.8h1.42v1.55h-1.42zM373.88 214.05h1.42v1.55h-1.42zM375.5 212.3h1.42v1.55h-1.42zM373.88 210.55h1.42v1.55h-1.42zM375.5 208.8h1.42v1.55h-1.42z" fill="#fff"/><path d="M375.4 207.25V206.61M374.1 206.61h2.6" stroke="#000" stroke-width="0.9" fill="none"/><text x="375.4" y="204.11" font-size="6.7" fill="#222" stroke="#222" stroke-width="0.15" text-anchor="middle">b</text><rect x="379.38" y="227" width="4.85" height="24.9" fill="#000"/><path d="M380.23 249.2h3.15v1.8h-3.15zM380.23 245.7h3.15v1.8h-3.15zM380.23 242.2h3.15v1.8h-3.15zM380.23 238.7h3.15v1.8h-3.15zM380.23 235.2h3.15v1.8h-3.15zM380.23 231.7h3.15v1.8h-3.15zM380.23 228.2h3.15v1.8h-3.15z" fill="#fff"/><rect x="379.38" y="199.6" width="4.85" height="20.4" fill="#000"/><path d="M380.23 217.3h3.15v1.8h-3.15zM380.23 213.8h3.15v1.8h-3.15zM380.23 210.3h3.15v1.8h-3.15zM380.23 206.8h3.15v1.8h-3.15zM380.23 203.3h3.15v1.8h-3.15z" fill="#fff"/><path d="M381.8 199.6V198.96M380.5 198.96h2.6" stroke="#000" stroke-width="0.9" fill="none"/><text x="381.8" y="196.46" font-size="6.7" fill="#222" stroke="#222" stroke-width="0.15" text-anchor="middle">a</text><line x1="297" y1="252.72" x2="297" y2="226.7" stroke="#000" stroke-width="1.65"/><line x1="293.6" y1="251.9" x2="297" y2="251.9" stroke="#000" stroke-width="1.5"/><text transform="translate(292.1 251.9) rotate(-90)" font-size="5.2" font-weight="bold" text-anchor="middle">0</text><line x1="293.6" y1="246.92" x2="297" y2="246.92" stroke="#000" stroke-width="1.5"/><text transform="translate(292.1 246.92) rotate(-90)" font-size="5.2" font-weight="bold" text-anchor="middle">2</text><line x1="293.6" y1="241.94" x2="297" y2="241.94" stroke="#000" stroke-width="1.5"/><text transform="translate(292.1 241.94) rotate(-90)" font-size="5.2" font-weight="bold" text-anchor="middle">4</text><line x1="293.6" y1="236.96" x2="297" y2="236.96" stroke="#000" stroke-width="1.5"/><text transform="translate(292.1 236.96) rotate(-90)" font-size="5.2" font-weight="bold" text-anchor="middle">6</text><line x1="293.6" y1="231.98" x2="297" y2="231.98" stroke="#000" stroke-width="1.5"/><text transform="translate(292.1 231.98) rotate(-90)" font-size="5.2" font-weight="bold" text-anchor="middle">8</text><line x1="293.6" y1="227" x2="297" y2="227" stroke="#000" stroke-width="1.5"/><text x="292.5" y="229.38" font-size="6.6" font-weight="bold" text-anchor="end">10</text><line x1="295.3" y1="227" x2="298.7" y2="227" stroke="#000" stroke-width="1.2"/><line x1="297" y1="220" x2="297" y2="194.2" stroke="#000" stroke-width="1.65"/><line x1="293.6" y1="220" x2="297" y2="220" stroke="#000" stroke-width="1.5"/><text x="292.5" y="222.38" font-size="6.6" font-weight="bold" text-anchor="end">40</text><line x1="293.6" y1="213.62" x2="297" y2="213.62" stroke="#000" stroke-width="1.5"/><text x="292.5" y="216" font-size="6.6" font-weight="bold" text-anchor="end">50</text><line x1="293.6" y1="207.25" x2="297" y2="207.25" stroke="#000" stroke-width="1.5"/><text x="292.5" y="209.63" font-size="6.6" font-weight="bold" text-anchor="end">60</text><line x1="293.6" y1="200.88" x2="297" y2="200.88" stroke="#000" stroke-width="1.5"/><text x="292.5" y="203.25" font-size="6.6" font-weight="bold" text-anchor="end">70</text><line x1="293.6" y1="194.5" x2="297" y2="194.5" stroke="#000" stroke-width="1.5"/><text x="292.5" y="196.88" font-size="6.6" font-weight="bold" text-anchor="end">80</text><line x1="295.3" y1="220" x2="298.7" y2="220" stroke="#000" stroke-width="1.2"/><line x1="295.3" y1="194.5" x2="298.7" y2="194.5" stroke="#000" stroke-width="1.2"/><line x1="297" y1="188.3" x2="297" y2="163" stroke="#000" stroke-width="1.65"/><line x1="293.6" y1="188.3" x2="297" y2="188.3" stroke="#000" stroke-width="1.5"/><text x="292.5" y="190.68" font-size="6.6" font-weight="bold" text-anchor="end">80</text><line x1="293.6" y1="182.05" x2="297" y2="182.05" stroke="#000" stroke-width="1.5"/><text x="292.5" y="184.43" font-size="6.6" font-weight="bold" text-anchor="end">90</text><line x1="293.6" y1="175.8" x2="297" y2="175.8" stroke="#000" stroke-width="1.5"/><text x="292.5" y="178.18" font-size="6.6" font-weight="bold" text-anchor="end">100</text><line x1="293.6" y1="169.55" x2="297" y2="169.55" stroke="#000" stroke-width="1.5"/><text x="292.5" y="171.93" font-size="6.6" font-weight="bold" text-anchor="end">110</text><line x1="293.6" y1="163.3" x2="297" y2="163.3" stroke="#000" stroke-width="1.5"/><text x="292.5" y="165.68" font-size="6.6" font-weight="bold" text-anchor="end">120</text><line x1="295.3" y1="188.3" x2="298.7" y2="188.3" stroke="#000" stroke-width="1.2"/><line x1="296.18" y1="251.9" x2="386.6" y2="251.9" stroke="#000" stroke-width="1.65"/><line x1="311.1" y1="251.9" x2="311.1" y2="255.7" stroke="#000" stroke-width="1.5"/><text x="311.1" y="264.8" font-size="8.3" font-weight="bold" text-anchor="middle">1</text><line x1="341.4" y1="251.9" x2="341.4" y2="255.7" stroke="#000" stroke-width="1.5"/><text x="341.4" y="264.8" font-size="8.3" font-weight="bold" text-anchor="middle">3</text><line x1="371.8" y1="251.9" x2="371.8" y2="255.7" stroke="#000" stroke-width="1.5"/><text x="371.8" y="264.8" font-size="8.3" font-weight="bold" text-anchor="middle">7</text><text x="341.2" y="274.7" font-size="8.7" font-weight="bold" text-anchor="middle">Days post inoculation</text><text transform="translate(276.7 248.1) rotate(-90)" font-size="8.6" font-weight="bold">Relative expression</text><text x="298.2" y="172.4" font-size="8.5"><tspan stroke="#000" stroke-width="0.4">(f)</tspan> <tspan font-weight="bold" font-style="italic">PR1</tspan></text>
<rect x="33.97" y="383.4" width="4.85" height="0.3" fill="#000"/><text x="36.4" y="380.9" font-size="6.7" fill="#222" stroke="#222" stroke-width="0.15" text-anchor="middle">b</text><rect x="40.37" y="317.52" width="4.85" height="66.18" fill="#aaaaac"/><text x="42.8" y="315.02" font-size="6.7" fill="#222" stroke="#222" stroke-width="0.15" text-anchor="middle">a</text><rect x="46.77" y="319" width="4.85" height="64.7" fill="#000"/><path d="M47.67 381.25h1.42v1.55h-1.42zM49.3 379.5h1.42v1.55h-1.42zM47.67 377.75h1.42v1.55h-1.42zM49.3 376h1.42v1.55h-1.42zM47.67 374.25h1.42v1.55h-1.42zM49.3 372.5h1.42v1.55h-1.42zM47.67 370.75h1.42v1.55h-1.42zM49.3 369h1.42v1.55h-1.42zM47.67 367.25h1.42v1.55h-1.42zM49.3 365.5h1.42v1.55h-1.42zM47.67 363.75h1.42v1.55h-1.42zM49.3 362h1.42v1.55h-1.42zM47.67 360.25h1.42v1.55h-1.42zM49.3 358.5h1.42v1.55h-1.42zM47.67 356.75h1.42v1.55h-1.42zM49.3 355h1.42v1.55h-1.42zM47.67 353.25h1.42v1.55h-1.42zM49.3 351.5h1.42v1.55h-1.42zM47.67 349.75h1.42v1.55h-1.42zM49.3 348h1.42v1.55h-1.42zM47.67 346.25h1.42v1.55h-1.42zM49.3 344.5h1.42v1.55h-1.42zM47.67 342.75h1.42v1.55h-1.42zM49.3 341h1.42v1.55h-1.42zM47.67 339.25h1.42v1.55h-1.42zM49.3 337.5h1.42v1.55h-1.42zM47.67 335.75h1.42v1.55h-1.42zM49.3 334h1.42v1.55h-1.42zM47.67 332.25h1.42v1.55h-1.42zM49.3 330.5h1.42v1.55h-1.42zM47.67 328.75h1.42v1.55h-1.42zM49.3 327h1.42v1.55h-1.42zM47.67 325.25h1.42v1.55h-1.42zM49.3 323.5h1.42v1.55h-1.42zM47.67 321.75h1.42v1.55h-1.42zM49.3 320h1.42v1.55h-1.42z" fill="#fff"/><text x="49.2" y="316.5" font-size="6.7" fill="#222" stroke="#222" stroke-width="0.15" text-anchor="middle">a</text><rect x="53.17" y="316.53" width="4.85" height="67.17" fill="#000"/><path d="M54.02 381h3.15v1.8h-3.15zM54.02 377.5h3.15v1.8h-3.15zM54.02 374h3.15v1.8h-3.15zM54.02 370.5h3.15v1.8h-3.15zM54.02 367h3.15v1.8h-3.15zM54.02 363.5h3.15v1.8h-3.15zM54.02 360h3.15v1.8h-3.15zM54.02 356.5h3.15v1.8h-3.15zM54.02 353h3.15v1.8h-3.15zM54.02 349.5h3.15v1.8h-3.15zM54.02 346h3.15v1.8h-3.15zM54.02 342.5h3.15v1.8h-3.15zM54.02 339h3.15v1.8h-3.15zM54.02 335.5h3.15v1.8h-3.15zM54.02 332h3.15v1.8h-3.15zM54.02 328.5h3.15v1.8h-3.15zM54.02 325h3.15v1.8h-3.15zM54.02 321.5h3.15v1.8h-3.15zM54.02 318h3.15v1.8h-3.15z" fill="#fff"/><text x="55.6" y="314.03" font-size="6.7" fill="#222" stroke="#222" stroke-width="0.15" text-anchor="middle">a</text><rect x="64.38" y="376.79" width="4.85" height="6.91" fill="#000"/><text x="66.8" y="374.29" font-size="6.7" fill="#222" stroke="#222" stroke-width="0.15" text-anchor="middle">b</text><rect x="70.78" y="368.39" width="4.85" height="15.31" fill="#aaaaac"/><text x="73.2" y="365.89" font-size="6.7" fill="#222" stroke="#222" stroke-width="0.15" text-anchor="middle">a</text><rect x="77.17" y="369.38" width="4.85" height="14.32" fill="#000"/><path d="M78.07 381.25h1.42v1.55h-1.42zM79.7 379.5h1.42v1.55h-1.42zM78.07 377.75h1.42v1.55h-1.42zM79.7 376h1.42v1.55h-1.42zM78.07 374.25h1.42v1.55h-1.42zM79.7 372.5h1.42v1.55h-1.42zM78.07 370.75h1.42v1.55h-1.42z" fill="#fff"/><text x="79.6" y="366.88" font-size="6.7" fill="#222" stroke="#222" stroke-width="0.15" text-anchor="middle">a</text><rect x="83.58" y="367.4" width="4.85" height="16.3" fill="#000"/><path d="M84.42 381h3.15v1.8h-3.15zM84.42 377.5h3.15v1.8h-3.15zM84.42 374h3.15v1.8h-3.15zM84.42 370.5h3.15v1.8h-3.15z" fill="#fff"/><text x="86" y="364.9" font-size="6.7" fill="#222" stroke="#222" stroke-width="0.15" text-anchor="middle">a</text><rect x="94.78" y="369.38" width="4.85" height="14.32" fill="#000"/><text x="97.2" y="366.88" font-size="6.7" fill="#222" stroke="#222" stroke-width="0.15" text-anchor="middle">b</text><rect x="101.18" y="341.23" width="4.85" height="42.47" fill="#aaaaac"/><text x="103.6" y="338.73" font-size="6.7" fill="#222" stroke="#222" stroke-width="0.15" text-anchor="middle">a</text><rect x="107.58" y="342.21" width="4.85" height="41.49" fill="#000"/><path d="M108.47 381.25h1.42v1.55h-1.42zM110.1 379.5h1.42v1.55h-1.42zM108.47 377.75h1.42v1.55h-1.42zM110.1 376h1.42v1.55h-1.42zM108.47 374.25h1.42v1.55h-1.42zM110.1 372.5h1.42v1.55h-1.42zM108.47 370.75h1.42v1.55h-1.42zM110.1 369h1.42v1.55h-1.42zM108.47 367.25h1.42v1.55h-1.42zM110.1 365.5h1.42v1.55h-1.42zM108.47 363.75h1.42v1.55h-1.42zM110.1 362h1.42v1.55h-1.42zM108.47 360.25h1.42v1.55h-1.42zM110.1 358.5h1.42v1.55h-1.42zM108.47 356.75h1.42v1.55h-1.42zM110.1 355h1.42v1.55h-1.42zM108.47 353.25h1.42v1.55h-1.42zM110.1 351.5h1.42v1.55h-1.42zM108.47 349.75h1.42v1.55h-1.42zM110.1 348h1.42v1.55h-1.42zM108.47 346.25h1.42v1.55h-1.42zM110.1 344.5h1.42v1.55h-1.42z" fill="#fff"/><text x="110" y="339.71" font-size="6.7" fill="#222" stroke="#222" stroke-width="0.15" text-anchor="middle">a</text><rect x="113.98" y="341.23" width="4.85" height="42.47" fill="#000"/><path d="M114.83 381h3.15v1.8h-3.15zM114.83 377.5h3.15v1.8h-3.15zM114.83 374h3.15v1.8h-3.15zM114.83 370.5h3.15v1.8h-3.15zM114.83 367h3.15v1.8h-3.15zM114.83 363.5h3.15v1.8h-3.15zM114.83 360h3.15v1.8h-3.15zM114.83 356.5h3.15v1.8h-3.15zM114.83 353h3.15v1.8h-3.15zM114.83 349.5h3.15v1.8h-3.15zM114.83 346h3.15v1.8h-3.15zM114.83 342.5h3.15v1.8h-3.15z" fill="#fff"/><text x="116.4" y="338.73" font-size="6.7" fill="#222" stroke="#222" stroke-width="0.15" text-anchor="middle">a</text><line x1="31.6" y1="384.52" x2="31.6" y2="294.5" stroke="#000" stroke-width="1.65"/><line x1="28.2" y1="383.7" x2="31.6" y2="383.7" stroke="#000" stroke-width="1.5"/><text x="27.1" y="386.51" font-size="7.8" font-weight="bold" text-anchor="end">0</text><line x1="28.2" y1="373.82" x2="31.6" y2="373.82" stroke="#000" stroke-width="1.5"/><text x="27.1" y="376.63" font-size="7.8" font-weight="bold" text-anchor="end">10</text><line x1="28.2" y1="363.94" x2="31.6" y2="363.94" stroke="#000" stroke-width="1.5"/><text x="27.1" y="366.75" font-size="7.8" font-weight="bold" text-anchor="end">20</text><line x1="28.2" y1="354.07" x2="31.6" y2="354.07" stroke="#000" stroke-width="1.5"/><text x="27.1" y="356.87" font-size="7.8" font-weight="bold" text-anchor="end">30</text><line x1="28.2" y1="344.19" x2="31.6" y2="344.19" stroke="#000" stroke-width="1.5"/><text x="27.1" y="347" font-size="7.8" font-weight="bold" text-anchor="end">40</text><line x1="28.2" y1="334.31" x2="31.6" y2="334.31" stroke="#000" stroke-width="1.5"/><text x="27.1" y="337.12" font-size="7.8" font-weight="bold" text-anchor="end">50</text><line x1="28.2" y1="324.43" x2="31.6" y2="324.43" stroke="#000" stroke-width="1.5"/><text x="27.1" y="327.24" font-size="7.8" font-weight="bold" text-anchor="end">60</text><line x1="28.2" y1="314.56" x2="31.6" y2="314.56" stroke="#000" stroke-width="1.5"/><text x="27.1" y="317.36" font-size="7.8" font-weight="bold" text-anchor="end">70</text><line x1="28.2" y1="304.68" x2="31.6" y2="304.68" stroke="#000" stroke-width="1.5"/><text x="27.1" y="307.49" font-size="7.8" font-weight="bold" text-anchor="end">80</text><line x1="28.2" y1="294.8" x2="31.6" y2="294.8" stroke="#000" stroke-width="1.5"/><text x="27.1" y="297.61" font-size="7.8" font-weight="bold" text-anchor="end">90</text><line x1="30.78" y1="383.7" x2="121.2" y2="383.7" stroke="#000" stroke-width="1.65"/><line x1="45.7" y1="383.7" x2="45.7" y2="387.5" stroke="#000" stroke-width="1.5"/><text x="45.7" y="396.6" font-size="8.3" font-weight="bold" text-anchor="middle">1</text><line x1="76" y1="383.7" x2="76" y2="387.5" stroke="#000" stroke-width="1.5"/><text x="76" y="396.6" font-size="8.3" font-weight="bold" text-anchor="middle">3</text><line x1="106.4" y1="383.7" x2="106.4" y2="387.5" stroke="#000" stroke-width="1.5"/><text x="106.4" y="396.6" font-size="8.3" font-weight="bold" text-anchor="middle">7</text><text x="75.8" y="406.5" font-size="8.7" font-weight="bold" text-anchor="middle">Days post inoculation</text><text transform="translate(13.6 378.4) rotate(-90)" font-size="8.6" font-weight="bold">Relative expression</text><text x="32.8" y="303.9" font-size="8.5"><tspan stroke="#000" stroke-width="0.4">(g)</tspan> <tspan font-weight="bold" font-style="italic">TSRF1</tspan></text>
<rect x="162.97" y="381.21" width="4.85" height="2.49" fill="#000"/><path d="M165.4 381.21V376.23M164.1 376.23h2.6" stroke="#000" stroke-width="0.9" fill="none"/><text x="165.4" y="373.73" font-size="6.7" fill="#222" stroke="#222" stroke-width="0.15" text-anchor="middle">b</text><rect x="169.38" y="358.8" width="4.85" height="24.9" fill="#aaaaac"/><rect x="169.38" y="336.32" width="4.85" height="15.38" fill="#aaaaac"/><path d="M171.8 336.32V336.02M170.5 336.02h2.6" stroke="#8c8c8c" stroke-width="0.9" fill="none"/><text x="171.8" y="333.52" font-size="6.7" fill="#222" stroke="#222" stroke-width="0.15" text-anchor="middle">a</text><rect x="175.78" y="358.8" width="4.85" height="24.9" fill="#000"/><path d="M176.68 381.25h1.42v1.55h-1.42zM178.3 379.5h1.42v1.55h-1.42zM176.68 377.75h1.42v1.55h-1.42zM178.3 376h1.42v1.55h-1.42zM176.68 374.25h1.42v1.55h-1.42zM178.3 372.5h1.42v1.55h-1.42zM176.68 370.75h1.42v1.55h-1.42zM178.3 369h1.42v1.55h-1.42zM176.68 367.25h1.42v1.55h-1.42zM178.3 365.5h1.42v1.55h-1.42zM176.68 363.75h1.42v1.55h-1.42zM178.3 362h1.42v1.55h-1.42zM176.68 360.25h1.42v1.55h-1.42z" fill="#fff"/><rect x="175.78" y="336.02" width="4.85" height="15.68" fill="#000"/><path d="M176.68 349.25h1.42v1.55h-1.42zM178.3 347.5h1.42v1.55h-1.42zM176.68 345.75h1.42v1.55h-1.42zM178.3 344h1.42v1.55h-1.42zM176.68 342.25h1.42v1.55h-1.42zM178.3 340.5h1.42v1.55h-1.42zM176.68 338.75h1.42v1.55h-1.42zM178.3 337h1.42v1.55h-1.42z" fill="#fff"/><path d="M178.2 336.02V335.71M176.9 335.71h2.6" stroke="#000" stroke-width="0.9" fill="none"/><text x="178.2" y="333.21" font-size="6.7" fill="#222" stroke="#222" stroke-width="0.15" text-anchor="middle">a</text><rect x="182.18" y="358.8" width="4.85" height="24.9" fill="#000"/><path d="M183.03 381h3.15v1.8h-3.15zM183.03 377.5h3.15v1.8h-3.15zM183.03 374h3.15v1.8h-3.15zM183.03 370.5h3.15v1.8h-3.15zM183.03 367h3.15v1.8h-3.15zM183.03 363.5h3.15v1.8h-3.15zM183.03 360h3.15v1.8h-3.15z" fill="#fff"/><rect x="182.18" y="336.32" width="4.85" height="15.38" fill="#000"/><path d="M183.03 349h3.15v1.8h-3.15zM183.03 345.5h3.15v1.8h-3.15zM183.03 342h3.15v1.8h-3.15zM183.03 338.5h3.15v1.8h-3.15z" fill="#fff"/><path d="M184.6 336.32V336.02M183.3 336.02h2.6" stroke="#000" stroke-width="0.9" fill="none"/><text x="184.6" y="333.52" font-size="6.7" fill="#222" stroke="#222" stroke-width="0.15" text-anchor="middle">a</text><rect x="193.37" y="358.8" width="4.85" height="24.9" fill="#000"/><rect x="193.37" y="339.4" width="4.85" height="12.3" fill="#000"/><path d="M195.8 339.4V337.56M194.5 337.56h2.6" stroke="#000" stroke-width="0.9" fill="none"/><text x="195.8" y="335.06" font-size="6.7" fill="#222" stroke="#222" stroke-width="0.15" text-anchor="middle">b</text><rect x="199.77" y="358.8" width="4.85" height="24.9" fill="#aaaaac"/><rect x="199.77" y="327.1" width="4.85" height="24.6" fill="#aaaaac"/><rect x="199.77" y="310.4" width="4.85" height="9.3" fill="#aaaaac"/><path d="M202.2 310.4V310.09M200.9 310.09h2.6" stroke="#8c8c8c" stroke-width="0.9" fill="none"/><text x="202.2" y="307.59" font-size="6.7" fill="#222" stroke="#222" stroke-width="0.15" text-anchor="middle">a</text><rect x="206.17" y="358.8" width="4.85" height="24.9" fill="#000"/><path d="M207.07 381.25h1.42v1.55h-1.42zM208.7 379.5h1.42v1.55h-1.42zM207.07 377.75h1.42v1.55h-1.42zM208.7 376h1.42v1.55h-1.42zM207.07 374.25h1.42v1.55h-1.42zM208.7 372.5h1.42v1.55h-1.42zM207.07 370.75h1.42v1.55h-1.42zM208.7 369h1.42v1.55h-1.42zM207.07 367.25h1.42v1.55h-1.42zM208.7 365.5h1.42v1.55h-1.42zM207.07 363.75h1.42v1.55h-1.42zM208.7 362h1.42v1.55h-1.42zM207.07 360.25h1.42v1.55h-1.42z" fill="#fff"/><rect x="206.17" y="327.1" width="4.85" height="24.6" fill="#000"/><path d="M207.07 349.25h1.42v1.55h-1.42zM208.7 347.5h1.42v1.55h-1.42zM207.07 345.75h1.42v1.55h-1.42zM208.7 344h1.42v1.55h-1.42zM207.07 342.25h1.42v1.55h-1.42zM208.7 340.5h1.42v1.55h-1.42zM207.07 338.75h1.42v1.55h-1.42zM208.7 337h1.42v1.55h-1.42zM207.07 335.25h1.42v1.55h-1.42zM208.7 333.5h1.42v1.55h-1.42zM207.07 331.75h1.42v1.55h-1.42zM208.7 330h1.42v1.55h-1.42zM207.07 328.25h1.42v1.55h-1.42z" fill="#fff"/><rect x="206.17" y="310.4" width="4.85" height="9.3" fill="#000"/><path d="M207.07 317.25h1.42v1.55h-1.42zM208.7 315.5h1.42v1.55h-1.42zM207.07 313.75h1.42v1.55h-1.42zM208.7 312h1.42v1.55h-1.42z" fill="#fff"/><path d="M208.6 310.4V310.09M207.3 310.09h2.6" stroke="#000" stroke-width="0.9" fill="none"/><text x="208.6" y="307.59" font-size="6.7" fill="#222" stroke="#222" stroke-width="0.15" text-anchor="middle">a</text><rect x="212.57" y="358.8" width="4.85" height="24.9" fill="#000"/><path d="M213.42 381h3.15v1.8h-3.15zM213.42 377.5h3.15v1.8h-3.15zM213.42 374h3.15v1.8h-3.15zM213.42 370.5h3.15v1.8h-3.15zM213.42 367h3.15v1.8h-3.15zM213.42 363.5h3.15v1.8h-3.15zM213.42 360h3.15v1.8h-3.15z" fill="#fff"/><rect x="212.57" y="327.1" width="4.85" height="24.6" fill="#000"/><path d="M213.42 349h3.15v1.8h-3.15zM213.42 345.5h3.15v1.8h-3.15zM213.42 342h3.15v1.8h-3.15zM213.42 338.5h3.15v1.8h-3.15zM213.42 335h3.15v1.8h-3.15zM213.42 331.5h3.15v1.8h-3.15zM213.42 328h3.15v1.8h-3.15z" fill="#fff"/><rect x="212.57" y="309.78" width="4.85" height="9.92" fill="#000"/><path d="M213.42 317h3.15v1.8h-3.15zM213.42 313.5h3.15v1.8h-3.15z" fill="#fff"/><path d="M215 309.78V309.47M213.7 309.47h2.6" stroke="#000" stroke-width="0.9" fill="none"/><text x="215" y="306.97" font-size="6.7" fill="#222" stroke="#222" stroke-width="0.15" text-anchor="middle">a</text><rect x="223.78" y="358.8" width="4.85" height="24.9" fill="#000"/><rect x="223.78" y="327.1" width="4.85" height="24.6" fill="#000"/><rect x="223.78" y="313.5" width="4.85" height="6.2" fill="#000"/><path d="M226.2 313.5V313.19M224.9 313.19h2.6" stroke="#000" stroke-width="0.9" fill="none"/><text x="226.2" y="310.69" font-size="6.7" fill="#222" stroke="#222" stroke-width="0.15" text-anchor="middle">a</text><rect x="230.18" y="358.8" width="4.85" height="24.9" fill="#aaaaac"/><rect x="230.18" y="327.1" width="4.85" height="24.6" fill="#aaaaac"/><rect x="230.18" y="318.46" width="4.85" height="1.24" fill="#aaaaac"/><path d="M232.6 318.46V318.27M231.3 318.27h2.6" stroke="#8c8c8c" stroke-width="0.9" fill="none"/><text x="232.6" y="315.77" font-size="6.7" fill="#222" stroke="#222" stroke-width="0.15" text-anchor="middle">b</text><rect x="236.58" y="358.8" width="4.85" height="24.9" fill="#000"/><path d="M237.48 381.25h1.42v1.55h-1.42zM239.1 379.5h1.42v1.55h-1.42zM237.48 377.75h1.42v1.55h-1.42zM239.1 376h1.42v1.55h-1.42zM237.48 374.25h1.42v1.55h-1.42zM239.1 372.5h1.42v1.55h-1.42zM237.48 370.75h1.42v1.55h-1.42zM239.1 369h1.42v1.55h-1.42zM237.48 367.25h1.42v1.55h-1.42zM239.1 365.5h1.42v1.55h-1.42zM237.48 363.75h1.42v1.55h-1.42zM239.1 362h1.42v1.55h-1.42zM237.48 360.25h1.42v1.55h-1.42z" fill="#fff"/><rect x="236.58" y="327.1" width="4.85" height="24.6" fill="#000"/><path d="M237.48 349.25h1.42v1.55h-1.42zM239.1 347.5h1.42v1.55h-1.42zM237.48 345.75h1.42v1.55h-1.42zM239.1 344h1.42v1.55h-1.42zM237.48 342.25h1.42v1.55h-1.42zM239.1 340.5h1.42v1.55h-1.42zM237.48 338.75h1.42v1.55h-1.42zM239.1 337h1.42v1.55h-1.42zM237.48 335.25h1.42v1.55h-1.42zM239.1 333.5h1.42v1.55h-1.42zM237.48 331.75h1.42v1.55h-1.42zM239.1 330h1.42v1.55h-1.42zM237.48 328.25h1.42v1.55h-1.42z" fill="#fff"/><rect x="236.58" y="317.84" width="4.85" height="1.86" fill="#000"/><path d="M239 317.84V317.65M237.7 317.65h2.6" stroke="#000" stroke-width="0.9" fill="none"/><text x="239" y="315.15" font-size="6.7" fill="#222" stroke="#222" stroke-width="0.15" text-anchor="middle">b</text><rect x="242.98" y="358.8" width="4.85" height="24.9" fill="#000"/><path d="M243.83 381h3.15v1.8h-3.15zM243.83 377.5h3.15v1.8h-3.15zM243.83 374h3.15v1.8h-3.15zM243.83 370.5h3.15v1.8h-3.15zM243.83 367h3.15v1.8h-3.15zM243.83 363.5h3.15v1.8h-3.15zM243.83 360h3.15v1.8h-3.15z" fill="#fff"/><rect x="242.98" y="327.1" width="4.85" height="24.6" fill="#000"/><path d="M243.83 349h3.15v1.8h-3.15zM243.83 345.5h3.15v1.8h-3.15zM243.83 342h3.15v1.8h-3.15zM243.83 338.5h3.15v1.8h-3.15zM243.83 335h3.15v1.8h-3.15zM243.83 331.5h3.15v1.8h-3.15zM243.83 328h3.15v1.8h-3.15z" fill="#fff"/><rect x="242.98" y="318.15" width="4.85" height="1.55" fill="#000"/><path d="M245.4 318.15V317.96M244.1 317.96h2.6" stroke="#000" stroke-width="0.9" fill="none"/><text x="245.4" y="315.46" font-size="6.7" fill="#222" stroke="#222" stroke-width="0.15" text-anchor="middle">b</text><line x1="160.6" y1="384.52" x2="160.6" y2="358.5" stroke="#000" stroke-width="1.65"/><line x1="157.2" y1="383.7" x2="160.6" y2="383.7" stroke="#000" stroke-width="1.5"/><text transform="translate(156.1 386.06) scale(1 0.82)" font-size="8.0" font-weight="bold" text-anchor="end">0</text><line x1="157.2" y1="371.25" x2="160.6" y2="371.25" stroke="#000" stroke-width="1.5"/><text transform="translate(156.1 373.61) scale(1 0.82)" font-size="8.0" font-weight="bold" text-anchor="end">5</text><line x1="157.2" y1="358.8" x2="160.6" y2="358.8" stroke="#000" stroke-width="1.5"/><text transform="translate(156.1 361.16) scale(1 0.82)" font-size="8.0" font-weight="bold" text-anchor="end">10</text><line x1="158.9" y1="358.8" x2="162.3" y2="358.8" stroke="#000" stroke-width="1.2"/><line x1="160.6" y1="351.7" x2="160.6" y2="326.8" stroke="#000" stroke-width="1.65"/><line x1="157.2" y1="351.7" x2="160.6" y2="351.7" stroke="#000" stroke-width="1.5"/><text transform="translate(156.1 354.06) scale(1 0.82)" font-size="8.0" font-weight="bold" text-anchor="end">20</text><line x1="157.2" y1="339.4" x2="160.6" y2="339.4" stroke="#000" stroke-width="1.5"/><text transform="translate(156.1 341.76) scale(1 0.82)" font-size="8.0" font-weight="bold" text-anchor="end">40</text><line x1="157.2" y1="327.1" x2="160.6" y2="327.1" stroke="#000" stroke-width="1.5"/><text transform="translate(156.1 329.46) scale(1 0.82)" font-size="8.0" font-weight="bold" text-anchor="end">60</text><line x1="158.9" y1="351.7" x2="162.3" y2="351.7" stroke="#000" stroke-width="1.2"/><line x1="158.9" y1="327.1" x2="162.3" y2="327.1" stroke="#000" stroke-width="1.2"/><line x1="160.6" y1="319.7" x2="160.6" y2="294.6" stroke="#000" stroke-width="1.65"/><line x1="157.2" y1="319.7" x2="160.6" y2="319.7" stroke="#000" stroke-width="1.5"/><text transform="translate(156.1 321.8) scale(1 0.82)" font-size="7.1" font-weight="bold" text-anchor="end">100</text><line x1="157.2" y1="313.5" x2="160.6" y2="313.5" stroke="#000" stroke-width="1.5"/><text transform="translate(156.1 315.6) scale(1 0.82)" font-size="7.1" font-weight="bold" text-anchor="end">200</text><line x1="157.2" y1="307.3" x2="160.6" y2="307.3" stroke="#000" stroke-width="1.5"/><text transform="translate(156.1 309.4) scale(1 0.82)" font-size="7.1" font-weight="bold" text-anchor="end">300</text><line x1="157.2" y1="301.1" x2="160.6" y2="301.1" stroke="#000" stroke-width="1.5"/><text transform="translate(156.1 303.2) scale(1 0.82)" font-size="7.1" font-weight="bold" text-anchor="end">400</text><line x1="157.2" y1="294.9" x2="160.6" y2="294.9" stroke="#000" stroke-width="1.5"/><text transform="translate(156.1 297) scale(1 0.82)" font-size="7.1" font-weight="bold" text-anchor="end">500</text><line x1="158.9" y1="319.7" x2="162.3" y2="319.7" stroke="#000" stroke-width="1.2"/><line x1="159.78" y1="383.7" x2="250.2" y2="383.7" stroke="#000" stroke-width="1.65"/><line x1="174.7" y1="383.7" x2="174.7" y2="387.5" stroke="#000" stroke-width="1.5"/><text x="174.7" y="396.6" font-size="8.3" font-weight="bold" text-anchor="middle">1</text><line x1="205" y1="383.7" x2="205" y2="387.5" stroke="#000" stroke-width="1.5"/><text x="205" y="396.6" font-size="8.3" font-weight="bold" text-anchor="middle">3</text><line x1="235.4" y1="383.7" x2="235.4" y2="387.5" stroke="#000" stroke-width="1.5"/><text x="235.4" y="396.6" font-size="8.3" font-weight="bold" text-anchor="middle">7</text><text x="204.8" y="406.5" font-size="8.7" font-weight="bold" text-anchor="middle">Days post inoculation</text><text transform="translate(139 379.2) rotate(-90)" font-size="8.6" font-weight="bold">Relative expression</text><text x="161.8" y="304" font-size="8.5"><tspan stroke="#000" stroke-width="0.4">(h)</tspan> <tspan font-weight="bold" font-style="italic">ACCO</tspan></text>
<rect x="299.27" y="354" width="4.85" height="29.7" fill="#aaaaac"/><path d="M301.7 354V351.62M300.4 351.62h2.6" stroke="#8c8c8c" stroke-width="0.9" fill="none"/><text x="301.7" y="349.12" font-size="7.2" fill="#222" stroke="#222" stroke-width="0.15" text-anchor="middle">a</text><rect x="305.67" y="370.33" width="4.85" height="13.37" fill="#000"/><path d="M308.1 370.33V369.15M306.8 369.15h2.6" stroke="#000" stroke-width="0.9" fill="none"/><text x="308.1" y="366.65" font-size="7.2" fill="#222" stroke="#222" stroke-width="0.15" text-anchor="middle">b</text><rect x="312.07" y="370.93" width="4.85" height="12.77" fill="#000"/><path d="M312.98 381.25h1.42v1.55h-1.42zM314.6 379.5h1.42v1.55h-1.42zM312.98 377.75h1.42v1.55h-1.42zM314.6 376h1.42v1.55h-1.42zM312.98 374.25h1.42v1.55h-1.42zM314.6 372.5h1.42v1.55h-1.42z" fill="#fff"/><path d="M314.5 370.93V369.74M313.2 369.74h2.6" stroke="#000" stroke-width="0.9" fill="none"/><text x="314.5" y="367.24" font-size="7.2" fill="#222" stroke="#222" stroke-width="0.15" text-anchor="middle">b</text><rect x="318.47" y="370.33" width="4.85" height="13.37" fill="#000"/><path d="M319.32 381h3.15v1.8h-3.15zM319.32 377.5h3.15v1.8h-3.15zM319.32 374h3.15v1.8h-3.15z" fill="#fff"/><path d="M320.9 370.33V369.15M319.6 369.15h2.6" stroke="#000" stroke-width="0.9" fill="none"/><text x="320.9" y="366.65" font-size="7.2" fill="#222" stroke="#222" stroke-width="0.15" text-anchor="middle">b</text><rect x="329.68" y="372.41" width="4.85" height="11.29" fill="#aaaaac"/><path d="M332.1 372.41V369.44M330.8 369.44h2.6" stroke="#8c8c8c" stroke-width="0.9" fill="none"/><text x="332.1" y="366.94" font-size="7.2" fill="#222" stroke="#222" stroke-width="0.15" text-anchor="middle">b</text><rect x="336.07" y="334.69" width="4.85" height="49" fill="#000"/><path d="M338.5 334.69V333.21M337.2 333.21h2.6" stroke="#000" stroke-width="0.9" fill="none"/><text x="338.5" y="330.71" font-size="7.2" fill="#222" stroke="#222" stroke-width="0.15" text-anchor="middle">a</text><rect x="342.48" y="333.21" width="4.85" height="50.49" fill="#000"/><path d="M343.38 381.25h1.42v1.55h-1.42zM345 379.5h1.42v1.55h-1.42zM343.38 377.75h1.42v1.55h-1.42zM345 376h1.42v1.55h-1.42zM343.38 374.25h1.42v1.55h-1.42zM345 372.5h1.42v1.55h-1.42zM343.38 370.75h1.42v1.55h-1.42zM345 369h1.42v1.55h-1.42zM343.38 367.25h1.42v1.55h-1.42zM345 365.5h1.42v1.55h-1.42zM343.38 363.75h1.42v1.55h-1.42zM345 362h1.42v1.55h-1.42zM343.38 360.25h1.42v1.55h-1.42zM345 358.5h1.42v1.55h-1.42zM343.38 356.75h1.42v1.55h-1.42zM345 355h1.42v1.55h-1.42zM343.38 353.25h1.42v1.55h-1.42zM345 351.5h1.42v1.55h-1.42zM343.38 349.75h1.42v1.55h-1.42zM345 348h1.42v1.55h-1.42zM343.38 346.25h1.42v1.55h-1.42zM345 344.5h1.42v1.55h-1.42zM343.38 342.75h1.42v1.55h-1.42zM345 341h1.42v1.55h-1.42zM343.38 339.25h1.42v1.55h-1.42zM345 337.5h1.42v1.55h-1.42zM343.38 335.75h1.42v1.55h-1.42zM345 334h1.42v1.55h-1.42z" fill="#fff"/><path d="M344.9 333.21V331.73M343.6 331.73h2.6" stroke="#000" stroke-width="0.9" fill="none"/><text x="344.9" y="329.23" font-size="7.2" fill="#222" stroke="#222" stroke-width="0.15" text-anchor="middle">a</text><rect x="348.88" y="333.21" width="4.85" height="50.49" fill="#000"/><path d="M349.73 381h3.15v1.8h-3.15zM349.73 377.5h3.15v1.8h-3.15zM349.73 374h3.15v1.8h-3.15zM349.73 370.5h3.15v1.8h-3.15zM349.73 367h3.15v1.8h-3.15zM349.73 363.5h3.15v1.8h-3.15zM349.73 360h3.15v1.8h-3.15zM349.73 356.5h3.15v1.8h-3.15zM349.73 353h3.15v1.8h-3.15zM349.73 349.5h3.15v1.8h-3.15zM349.73 346h3.15v1.8h-3.15zM349.73 342.5h3.15v1.8h-3.15zM349.73 339h3.15v1.8h-3.15zM349.73 335.5h3.15v1.8h-3.15z" fill="#fff"/><path d="M351.3 333.21V331.73M350 331.73h2.6" stroke="#000" stroke-width="0.9" fill="none"/><text x="351.3" y="329.23" font-size="7.2" fill="#222" stroke="#222" stroke-width="0.15" text-anchor="middle">a</text><rect x="360.07" y="373.9" width="4.85" height="9.8" fill="#aaaaac"/><path d="M362.5 373.9V372.12M361.2 372.12h2.6" stroke="#8c8c8c" stroke-width="0.9" fill="none"/><text x="362.5" y="369.62" font-size="7.2" fill="#222" stroke="#222" stroke-width="0.15" text-anchor="middle">b</text><rect x="366.47" y="309.45" width="4.85" height="74.25" fill="#000"/><path d="M368.9 309.45V307.07M367.6 307.07h2.6" stroke="#000" stroke-width="0.9" fill="none"/><text x="368.9" y="304.57" font-size="7.2" fill="#222" stroke="#222" stroke-width="0.15" text-anchor="middle">a</text><rect x="372.88" y="306.48" width="4.85" height="77.22" fill="#000"/><path d="M373.78 381.25h1.42v1.55h-1.42zM375.4 379.5h1.42v1.55h-1.42zM373.78 377.75h1.42v1.55h-1.42zM375.4 376h1.42v1.55h-1.42zM373.78 374.25h1.42v1.55h-1.42zM375.4 372.5h1.42v1.55h-1.42zM373.78 370.75h1.42v1.55h-1.42zM375.4 369h1.42v1.55h-1.42zM373.78 367.25h1.42v1.55h-1.42zM375.4 365.5h1.42v1.55h-1.42zM373.78 363.75h1.42v1.55h-1.42zM375.4 362h1.42v1.55h-1.42zM373.78 360.25h1.42v1.55h-1.42zM375.4 358.5h1.42v1.55h-1.42zM373.78 356.75h1.42v1.55h-1.42zM375.4 355h1.42v1.55h-1.42zM373.78 353.25h1.42v1.55h-1.42zM375.4 351.5h1.42v1.55h-1.42zM373.78 349.75h1.42v1.55h-1.42zM375.4 348h1.42v1.55h-1.42zM373.78 346.25h1.42v1.55h-1.42zM375.4 344.5h1.42v1.55h-1.42zM373.78 342.75h1.42v1.55h-1.42zM375.4 341h1.42v1.55h-1.42zM373.78 339.25h1.42v1.55h-1.42zM375.4 337.5h1.42v1.55h-1.42zM373.78 335.75h1.42v1.55h-1.42zM375.4 334h1.42v1.55h-1.42zM373.78 332.25h1.42v1.55h-1.42zM375.4 330.5h1.42v1.55h-1.42zM373.78 328.75h1.42v1.55h-1.42zM375.4 327h1.42v1.55h-1.42zM373.78 325.25h1.42v1.55h-1.42zM375.4 323.5h1.42v1.55h-1.42zM373.78 321.75h1.42v1.55h-1.42zM375.4 320h1.42v1.55h-1.42zM373.78 318.25h1.42v1.55h-1.42zM375.4 316.5h1.42v1.55h-1.42zM373.78 314.75h1.42v1.55h-1.42zM375.4 313h1.42v1.55h-1.42zM373.78 311.25h1.42v1.55h-1.42zM375.4 309.5h1.42v1.55h-1.42zM373.78 307.75h1.42v1.55h-1.42z" fill="#fff"/><path d="M375.3 306.48V304.1M374 304.1h2.6" stroke="#000" stroke-width="0.9" fill="none"/><text x="375.3" y="301.6" font-size="7.2" fill="#222" stroke="#222" stroke-width="0.15" text-anchor="middle">a</text><rect x="379.27" y="306.48" width="4.85" height="77.22" fill="#000"/><path d="M380.12 381h3.15v1.8h-3.15zM380.12 377.5h3.15v1.8h-3.15zM380.12 374h3.15v1.8h-3.15zM380.12 370.5h3.15v1.8h-3.15zM380.12 367h3.15v1.8h-3.15zM380.12 363.5h3.15v1.8h-3.15zM380.12 360h3.15v1.8h-3.15zM380.12 356.5h3.15v1.8h-3.15zM380.12 353h3.15v1.8h-3.15zM380.12 349.5h3.15v1.8h-3.15zM380.12 346h3.15v1.8h-3.15zM380.12 342.5h3.15v1.8h-3.15zM380.12 339h3.15v1.8h-3.15zM380.12 335.5h3.15v1.8h-3.15zM380.12 332h3.15v1.8h-3.15zM380.12 328.5h3.15v1.8h-3.15zM380.12 325h3.15v1.8h-3.15zM380.12 321.5h3.15v1.8h-3.15zM380.12 318h3.15v1.8h-3.15zM380.12 314.5h3.15v1.8h-3.15zM380.12 311h3.15v1.8h-3.15zM380.12 307.5h3.15v1.8h-3.15z" fill="#fff"/><path d="M381.7 306.48V304.1M380.4 304.1h2.6" stroke="#000" stroke-width="0.9" fill="none"/><text x="381.7" y="301.6" font-size="7.2" fill="#222" stroke="#222" stroke-width="0.15" text-anchor="middle">a</text><line x1="296.9" y1="384.52" x2="296.9" y2="294.3" stroke="#000" stroke-width="1.65"/><line x1="293.5" y1="383.7" x2="296.9" y2="383.7" stroke="#000" stroke-width="1.5"/><text x="292.4" y="386.65" font-size="8.2" font-weight="bold" text-anchor="end">0</text><line x1="293.5" y1="354" x2="296.9" y2="354" stroke="#000" stroke-width="1.5"/><text x="292.4" y="356.95" font-size="8.2" font-weight="bold" text-anchor="end">1</text><line x1="293.5" y1="324.3" x2="296.9" y2="324.3" stroke="#000" stroke-width="1.5"/><text x="292.4" y="327.25" font-size="8.2" font-weight="bold" text-anchor="end">2</text><line x1="293.5" y1="294.6" x2="296.9" y2="294.6" stroke="#000" stroke-width="1.5"/><text x="292.4" y="297.55" font-size="8.2" font-weight="bold" text-anchor="end">3</text><line x1="296.07" y1="383.7" x2="386.5" y2="383.7" stroke="#000" stroke-width="1.65"/><line x1="311" y1="383.7" x2="311" y2="387.5" stroke="#000" stroke-width="1.5"/><text x="311" y="396.6" font-size="8.3" font-weight="bold" text-anchor="middle">1</text><line x1="341.3" y1="383.7" x2="341.3" y2="387.5" stroke="#000" stroke-width="1.5"/><text x="341.3" y="396.6" font-size="8.3" font-weight="bold" text-anchor="middle">3</text><line x1="371.7" y1="383.7" x2="371.7" y2="387.5" stroke="#000" stroke-width="1.5"/><text x="371.7" y="396.6" font-size="8.3" font-weight="bold" text-anchor="middle">7</text><text x="341.1" y="406.5" font-size="8.7" font-weight="bold" text-anchor="middle">Days post inoculation</text><text transform="translate(284 378.9) rotate(-90)" font-size="8.6" font-weight="bold">Relative expression</text><text x="298.1" y="303.7" font-size="8.5"><tspan stroke="#000" stroke-width="0.4">(i)</tspan> <tspan font-weight="bold" font-style="italic">ERF1</tspan></text>
<rect x="33.97" y="494.92" width="4.85" height="22.38" fill="#000"/><path d="M36.4 494.92V493.58M35.1 493.58h2.6" stroke="#000" stroke-width="0.9" fill="none"/><text x="36.4" y="491.08" font-size="7.1" fill="#222" stroke="#222" stroke-width="0.15" text-anchor="middle">b</text><rect x="40.37" y="489.33" width="4.85" height="27.97" fill="#aaaaac"/><path d="M42.8 489.33V488.66M41.5 488.66h2.6" stroke="#8c8c8c" stroke-width="0.9" fill="none"/><text x="42.8" y="486.16" font-size="7.1" fill="#222" stroke="#222" stroke-width="0.15" text-anchor="middle">a</text><rect x="46.77" y="488.88" width="4.85" height="28.42" fill="#000"/><path d="M47.67 514.85h1.42v1.55h-1.42zM49.3 513.1h1.42v1.55h-1.42zM47.67 511.35h1.42v1.55h-1.42zM49.3 509.6h1.42v1.55h-1.42zM47.67 507.85h1.42v1.55h-1.42zM49.3 506.1h1.42v1.55h-1.42zM47.67 504.35h1.42v1.55h-1.42zM49.3 502.6h1.42v1.55h-1.42zM47.67 500.85h1.42v1.55h-1.42zM49.3 499.1h1.42v1.55h-1.42zM47.67 497.35h1.42v1.55h-1.42zM49.3 495.6h1.42v1.55h-1.42zM47.67 493.85h1.42v1.55h-1.42zM49.3 492.1h1.42v1.55h-1.42zM47.67 490.35h1.42v1.55h-1.42z" fill="#fff"/><path d="M49.2 488.88V488.21M47.9 488.21h2.6" stroke="#000" stroke-width="0.9" fill="none"/><text x="49.2" y="485.71" font-size="7.1" fill="#222" stroke="#222" stroke-width="0.15" text-anchor="middle">a</text><rect x="53.17" y="488.88" width="4.85" height="28.42" fill="#000"/><path d="M54.02 514.6h3.15v1.8h-3.15zM54.02 511.1h3.15v1.8h-3.15zM54.02 507.6h3.15v1.8h-3.15zM54.02 504.1h3.15v1.8h-3.15zM54.02 500.6h3.15v1.8h-3.15zM54.02 497.1h3.15v1.8h-3.15zM54.02 493.6h3.15v1.8h-3.15zM54.02 490.1h3.15v1.8h-3.15z" fill="#fff"/><path d="M55.6 488.88V488.21M54.3 488.21h2.6" stroke="#000" stroke-width="0.9" fill="none"/><text x="55.6" y="485.71" font-size="7.1" fill="#222" stroke="#222" stroke-width="0.15" text-anchor="middle">a</text><rect x="64.38" y="504.99" width="4.85" height="12.31" fill="#000"/><path d="M66.8 504.99V502.76M65.5 502.76h2.6" stroke="#000" stroke-width="0.9" fill="none"/><text x="66.8" y="500.26" font-size="7.1" fill="#222" stroke="#222" stroke-width="0.15" text-anchor="middle">b</text><rect x="70.78" y="461.36" width="4.85" height="55.94" fill="#aaaaac"/><path d="M73.2 461.36V459.12M71.9 459.12h2.6" stroke="#8c8c8c" stroke-width="0.9" fill="none"/><text x="73.2" y="456.62" font-size="7.1" fill="#222" stroke="#222" stroke-width="0.15" text-anchor="middle">a</text><rect x="77.17" y="460.24" width="4.85" height="57.06" fill="#000"/><path d="M78.07 514.85h1.42v1.55h-1.42zM79.7 513.1h1.42v1.55h-1.42zM78.07 511.35h1.42v1.55h-1.42zM79.7 509.6h1.42v1.55h-1.42zM78.07 507.85h1.42v1.55h-1.42zM79.7 506.1h1.42v1.55h-1.42zM78.07 504.35h1.42v1.55h-1.42zM79.7 502.6h1.42v1.55h-1.42zM78.07 500.85h1.42v1.55h-1.42zM79.7 499.1h1.42v1.55h-1.42zM78.07 497.35h1.42v1.55h-1.42zM79.7 495.6h1.42v1.55h-1.42zM78.07 493.85h1.42v1.55h-1.42zM79.7 492.1h1.42v1.55h-1.42zM78.07 490.35h1.42v1.55h-1.42zM79.7 488.6h1.42v1.55h-1.42zM78.07 486.85h1.42v1.55h-1.42zM79.7 485.1h1.42v1.55h-1.42zM78.07 483.35h1.42v1.55h-1.42zM79.7 481.6h1.42v1.55h-1.42zM78.07 479.85h1.42v1.55h-1.42zM79.7 478.1h1.42v1.55h-1.42zM78.07 476.35h1.42v1.55h-1.42zM79.7 474.6h1.42v1.55h-1.42zM78.07 472.85h1.42v1.55h-1.42zM79.7 471.1h1.42v1.55h-1.42zM78.07 469.35h1.42v1.55h-1.42zM79.7 467.6h1.42v1.55h-1.42zM78.07 465.85h1.42v1.55h-1.42zM79.7 464.1h1.42v1.55h-1.42zM78.07 462.35h1.42v1.55h-1.42z" fill="#fff"/><path d="M79.6 460.24V458.45M78.3 458.45h2.6" stroke="#000" stroke-width="0.9" fill="none"/><text x="79.6" y="455.95" font-size="7.1" fill="#222" stroke="#222" stroke-width="0.15" text-anchor="middle">a</text><rect x="83.58" y="459.12" width="4.85" height="58.17" fill="#000"/><path d="M84.42 514.6h3.15v1.8h-3.15zM84.42 511.1h3.15v1.8h-3.15zM84.42 507.6h3.15v1.8h-3.15zM84.42 504.1h3.15v1.8h-3.15zM84.42 500.6h3.15v1.8h-3.15zM84.42 497.1h3.15v1.8h-3.15zM84.42 493.6h3.15v1.8h-3.15zM84.42 490.1h3.15v1.8h-3.15zM84.42 486.6h3.15v1.8h-3.15zM84.42 483.1h3.15v1.8h-3.15zM84.42 479.6h3.15v1.8h-3.15zM84.42 476.1h3.15v1.8h-3.15zM84.42 472.6h3.15v1.8h-3.15zM84.42 469.1h3.15v1.8h-3.15zM84.42 465.6h3.15v1.8h-3.15zM84.42 462.1h3.15v1.8h-3.15z" fill="#fff"/><path d="M86 459.12V457.33M84.7 457.33h2.6" stroke="#000" stroke-width="0.9" fill="none"/><text x="86" y="454.83" font-size="7.1" fill="#222" stroke="#222" stroke-width="0.15" text-anchor="middle">a</text><rect x="94.78" y="468.07" width="4.85" height="49.22" fill="#000"/><path d="M97.2 468.07V466.96M95.9 466.96h2.6" stroke="#000" stroke-width="0.9" fill="none"/><text x="97.2" y="464.46" font-size="7.1" fill="#222" stroke="#222" stroke-width="0.15" text-anchor="middle">a</text><rect x="101.18" y="496.71" width="4.85" height="20.58" fill="#aaaaac"/><path d="M103.6 496.71V489.33M102.3 489.33h2.6" stroke="#8c8c8c" stroke-width="0.9" fill="none"/><text x="103.6" y="486.83" font-size="7.1" fill="#222" stroke="#222" stroke-width="0.15" text-anchor="middle">b</text><rect x="107.58" y="494.03" width="4.85" height="23.27" fill="#000"/><path d="M108.47 514.85h1.42v1.55h-1.42zM110.1 513.1h1.42v1.55h-1.42zM108.47 511.35h1.42v1.55h-1.42zM110.1 509.6h1.42v1.55h-1.42zM108.47 507.85h1.42v1.55h-1.42zM110.1 506.1h1.42v1.55h-1.42zM108.47 504.35h1.42v1.55h-1.42zM110.1 502.6h1.42v1.55h-1.42zM108.47 500.85h1.42v1.55h-1.42zM110.1 499.1h1.42v1.55h-1.42zM108.47 497.35h1.42v1.55h-1.42zM110.1 495.6h1.42v1.55h-1.42z" fill="#fff"/><path d="M110 494.03V487.32M108.7 487.32h2.6" stroke="#000" stroke-width="0.9" fill="none"/><text x="110" y="484.82" font-size="7.1" fill="#222" stroke="#222" stroke-width="0.15" text-anchor="middle">b</text><rect x="113.98" y="492.91" width="4.85" height="24.39" fill="#000"/><path d="M114.83 514.6h3.15v1.8h-3.15zM114.83 511.1h3.15v1.8h-3.15zM114.83 507.6h3.15v1.8h-3.15zM114.83 504.1h3.15v1.8h-3.15zM114.83 500.6h3.15v1.8h-3.15zM114.83 497.1h3.15v1.8h-3.15z" fill="#fff"/><path d="M116.4 492.91V485.75M115.1 485.75h2.6" stroke="#000" stroke-width="0.9" fill="none"/><text x="116.4" y="483.25" font-size="7.1" fill="#222" stroke="#222" stroke-width="0.15" text-anchor="middle">b</text><line x1="31.6" y1="518.12" x2="31.6" y2="427.5" stroke="#000" stroke-width="1.65"/><line x1="28.2" y1="517.3" x2="31.6" y2="517.3" stroke="#000" stroke-width="1.5"/><text x="27.1" y="520.32" font-size="8.4" font-weight="bold" text-anchor="end">0</text><line x1="28.2" y1="494.92" x2="31.6" y2="494.92" stroke="#000" stroke-width="1.5"/><text x="27.1" y="497.95" font-size="8.4" font-weight="bold" text-anchor="end">1</text><line x1="28.2" y1="472.55" x2="31.6" y2="472.55" stroke="#000" stroke-width="1.5"/><text x="27.1" y="475.57" font-size="8.4" font-weight="bold" text-anchor="end">2</text><line x1="28.2" y1="450.18" x2="31.6" y2="450.18" stroke="#000" stroke-width="1.5"/><text x="27.1" y="453.2" font-size="8.4" font-weight="bold" text-anchor="end">3</text><line x1="28.2" y1="427.8" x2="31.6" y2="427.8" stroke="#000" stroke-width="1.5"/><text x="27.1" y="430.82" font-size="8.4" font-weight="bold" text-anchor="end">4</text><line x1="30.78" y1="517.3" x2="121.2" y2="517.3" stroke="#000" stroke-width="1.65"/><line x1="45.7" y1="517.3" x2="45.7" y2="521.1" stroke="#000" stroke-width="1.5"/><text x="45.7" y="530.2" font-size="8.3" font-weight="bold" text-anchor="middle">1</text><line x1="76" y1="517.3" x2="76" y2="521.1" stroke="#000" stroke-width="1.5"/><text x="76" y="530.2" font-size="8.3" font-weight="bold" text-anchor="middle">3</text><line x1="106.4" y1="517.3" x2="106.4" y2="521.1" stroke="#000" stroke-width="1.5"/><text x="106.4" y="530.2" font-size="8.3" font-weight="bold" text-anchor="middle">7</text><text x="75.8" y="540.1" font-size="8.7" font-weight="bold" text-anchor="middle">Days post inoculation</text><text transform="translate(19 512.5) rotate(-90)" font-size="8.6" font-weight="bold">Relative expression</text><text x="32.8" y="436.9" font-size="8.5"><tspan stroke="#000" stroke-width="0.4">(j)</tspan> <tspan font-weight="bold" font-style="italic">JERF3</tspan></text>
<rect x="162.97" y="454.86" width="4.85" height="62.44" fill="#000"/><text x="165.4" y="452.36" font-size="6.7" fill="#222" stroke="#222" stroke-width="0.15" text-anchor="middle">c</text><rect x="169.38" y="453.08" width="4.85" height="64.22" fill="#aaaaac"/><text x="171.8" y="450.58" font-size="6.7" fill="#222" stroke="#222" stroke-width="0.15" text-anchor="middle">b</text><rect x="175.78" y="451.29" width="4.85" height="66.01" fill="#000"/><path d="M176.68 514.85h1.42v1.55h-1.42zM178.3 513.1h1.42v1.55h-1.42zM176.68 511.35h1.42v1.55h-1.42zM178.3 509.6h1.42v1.55h-1.42zM176.68 507.85h1.42v1.55h-1.42zM178.3 506.1h1.42v1.55h-1.42zM176.68 504.35h1.42v1.55h-1.42zM178.3 502.6h1.42v1.55h-1.42zM176.68 500.85h1.42v1.55h-1.42zM178.3 499.1h1.42v1.55h-1.42zM176.68 497.35h1.42v1.55h-1.42zM178.3 495.6h1.42v1.55h-1.42zM176.68 493.85h1.42v1.55h-1.42zM178.3 492.1h1.42v1.55h-1.42zM176.68 490.35h1.42v1.55h-1.42zM178.3 488.6h1.42v1.55h-1.42zM176.68 486.85h1.42v1.55h-1.42zM178.3 485.1h1.42v1.55h-1.42zM176.68 483.35h1.42v1.55h-1.42zM178.3 481.6h1.42v1.55h-1.42zM176.68 479.85h1.42v1.55h-1.42zM178.3 478.1h1.42v1.55h-1.42zM176.68 476.35h1.42v1.55h-1.42zM178.3 474.6h1.42v1.55h-1.42zM176.68 472.85h1.42v1.55h-1.42zM178.3 471.1h1.42v1.55h-1.42zM176.68 469.35h1.42v1.55h-1.42zM178.3 467.6h1.42v1.55h-1.42zM176.68 465.85h1.42v1.55h-1.42zM178.3 464.1h1.42v1.55h-1.42zM176.68 462.35h1.42v1.55h-1.42zM178.3 460.6h1.42v1.55h-1.42zM176.68 458.85h1.42v1.55h-1.42zM178.3 457.1h1.42v1.55h-1.42zM176.68 455.35h1.42v1.55h-1.42zM178.3 453.6h1.42v1.55h-1.42z" fill="#fff"/><text x="178.2" y="448.79" font-size="6.7" fill="#222" stroke="#222" stroke-width="0.15" text-anchor="middle">b</text><rect x="182.18" y="447.01" width="4.85" height="70.29" fill="#000"/><path d="M183.03 514.6h3.15v1.8h-3.15zM183.03 511.1h3.15v1.8h-3.15zM183.03 507.6h3.15v1.8h-3.15zM183.03 504.1h3.15v1.8h-3.15zM183.03 500.6h3.15v1.8h-3.15zM183.03 497.1h3.15v1.8h-3.15zM183.03 493.6h3.15v1.8h-3.15zM183.03 490.1h3.15v1.8h-3.15zM183.03 486.6h3.15v1.8h-3.15zM183.03 483.1h3.15v1.8h-3.15zM183.03 479.6h3.15v1.8h-3.15zM183.03 476.1h3.15v1.8h-3.15zM183.03 472.6h3.15v1.8h-3.15zM183.03 469.1h3.15v1.8h-3.15zM183.03 465.6h3.15v1.8h-3.15zM183.03 462.1h3.15v1.8h-3.15zM183.03 458.6h3.15v1.8h-3.15zM183.03 455.1h3.15v1.8h-3.15zM183.03 451.6h3.15v1.8h-3.15zM183.03 448.1h3.15v1.8h-3.15z" fill="#fff"/><text x="184.6" y="444.51" font-size="6.7" fill="#222" stroke="#222" stroke-width="0.15" text-anchor="middle">a</text><rect x="193.37" y="500.53" width="4.85" height="16.77" fill="#000"/><text x="195.8" y="498.03" font-size="6.7" fill="#222" stroke="#222" stroke-width="0.15" text-anchor="middle">d</text><rect x="199.77" y="480.91" width="4.85" height="36.39" fill="#aaaaac"/><text x="202.2" y="478.41" font-size="6.7" fill="#222" stroke="#222" stroke-width="0.15" text-anchor="middle">c</text><rect x="206.17" y="477.34" width="4.85" height="39.96" fill="#000"/><path d="M207.07 514.85h1.42v1.55h-1.42zM208.7 513.1h1.42v1.55h-1.42zM207.07 511.35h1.42v1.55h-1.42zM208.7 509.6h1.42v1.55h-1.42zM207.07 507.85h1.42v1.55h-1.42zM208.7 506.1h1.42v1.55h-1.42zM207.07 504.35h1.42v1.55h-1.42zM208.7 502.6h1.42v1.55h-1.42zM207.07 500.85h1.42v1.55h-1.42zM208.7 499.1h1.42v1.55h-1.42zM207.07 497.35h1.42v1.55h-1.42zM208.7 495.6h1.42v1.55h-1.42zM207.07 493.85h1.42v1.55h-1.42zM208.7 492.1h1.42v1.55h-1.42zM207.07 490.35h1.42v1.55h-1.42zM208.7 488.6h1.42v1.55h-1.42zM207.07 486.85h1.42v1.55h-1.42zM208.7 485.1h1.42v1.55h-1.42zM207.07 483.35h1.42v1.55h-1.42zM208.7 481.6h1.42v1.55h-1.42zM207.07 479.85h1.42v1.55h-1.42zM208.7 478.1h1.42v1.55h-1.42z" fill="#fff"/><text x="208.6" y="474.84" font-size="6.7" fill="#222" stroke="#222" stroke-width="0.15" text-anchor="middle">b</text><rect x="212.57" y="473.41" width="4.85" height="43.89" fill="#000"/><path d="M213.42 514.6h3.15v1.8h-3.15zM213.42 511.1h3.15v1.8h-3.15zM213.42 507.6h3.15v1.8h-3.15zM213.42 504.1h3.15v1.8h-3.15zM213.42 500.6h3.15v1.8h-3.15zM213.42 497.1h3.15v1.8h-3.15zM213.42 493.6h3.15v1.8h-3.15zM213.42 490.1h3.15v1.8h-3.15zM213.42 486.6h3.15v1.8h-3.15zM213.42 483.1h3.15v1.8h-3.15zM213.42 479.6h3.15v1.8h-3.15zM213.42 476.1h3.15v1.8h-3.15z" fill="#fff"/><text x="215" y="470.91" font-size="6.7" fill="#222" stroke="#222" stroke-width="0.15" text-anchor="middle">a</text><rect x="223.78" y="510.16" width="4.85" height="7.14" fill="#000"/><text x="226.2" y="507.66" font-size="6.7" fill="#222" stroke="#222" stroke-width="0.15" text-anchor="middle">d</text><rect x="230.18" y="499.46" width="4.85" height="17.84" fill="#aaaaac"/><text x="232.6" y="496.96" font-size="6.7" fill="#222" stroke="#222" stroke-width="0.15" text-anchor="middle">c</text><rect x="236.58" y="495.89" width="4.85" height="21.41" fill="#000"/><path d="M237.48 514.85h1.42v1.55h-1.42zM239.1 513.1h1.42v1.55h-1.42zM237.48 511.35h1.42v1.55h-1.42zM239.1 509.6h1.42v1.55h-1.42zM237.48 507.85h1.42v1.55h-1.42zM239.1 506.1h1.42v1.55h-1.42zM237.48 504.35h1.42v1.55h-1.42zM239.1 502.6h1.42v1.55h-1.42zM237.48 500.85h1.42v1.55h-1.42zM239.1 499.1h1.42v1.55h-1.42zM237.48 497.35h1.42v1.55h-1.42z" fill="#fff"/><text x="239" y="493.39" font-size="6.7" fill="#222" stroke="#222" stroke-width="0.15" text-anchor="middle">b</text><rect x="242.98" y="492.32" width="4.85" height="24.98" fill="#000"/><path d="M243.83 514.6h3.15v1.8h-3.15zM243.83 511.1h3.15v1.8h-3.15zM243.83 507.6h3.15v1.8h-3.15zM243.83 504.1h3.15v1.8h-3.15zM243.83 500.6h3.15v1.8h-3.15zM243.83 497.1h3.15v1.8h-3.15zM243.83 493.6h3.15v1.8h-3.15z" fill="#fff"/><text x="245.4" y="489.82" font-size="6.7" fill="#222" stroke="#222" stroke-width="0.15" text-anchor="middle">a</text><line x1="160.6" y1="518.12" x2="160.6" y2="427.8" stroke="#000" stroke-width="1.65"/><line x1="157.2" y1="517.3" x2="160.6" y2="517.3" stroke="#000" stroke-width="1.5"/><text x="156.1" y="520.14" font-size="7.9" font-weight="bold" text-anchor="end">0</text><line x1="157.2" y1="499.46" x2="160.6" y2="499.46" stroke="#000" stroke-width="1.5"/><text x="156.1" y="502.3" font-size="7.9" font-weight="bold" text-anchor="end">5</text><line x1="157.2" y1="481.62" x2="160.6" y2="481.62" stroke="#000" stroke-width="1.5"/><text x="156.1" y="484.46" font-size="7.9" font-weight="bold" text-anchor="end">10</text><line x1="157.2" y1="463.78" x2="160.6" y2="463.78" stroke="#000" stroke-width="1.5"/><text x="156.1" y="466.62" font-size="7.9" font-weight="bold" text-anchor="end">15</text><line x1="157.2" y1="445.94" x2="160.6" y2="445.94" stroke="#000" stroke-width="1.5"/><text x="156.1" y="448.78" font-size="7.9" font-weight="bold" text-anchor="end">20</text><line x1="157.2" y1="428.1" x2="160.6" y2="428.1" stroke="#000" stroke-width="1.5"/><text x="156.1" y="430.94" font-size="7.9" font-weight="bold" text-anchor="end">25</text><line x1="159.78" y1="517.3" x2="250.2" y2="517.3" stroke="#000" stroke-width="1.65"/><line x1="174.7" y1="517.3" x2="174.7" y2="521.1" stroke="#000" stroke-width="1.5"/><text x="174.7" y="530.2" font-size="8.3" font-weight="bold" text-anchor="middle">1</text><line x1="205" y1="517.3" x2="205" y2="521.1" stroke="#000" stroke-width="1.5"/><text x="205" y="530.2" font-size="8.3" font-weight="bold" text-anchor="middle">3</text><line x1="235.4" y1="517.3" x2="235.4" y2="521.1" stroke="#000" stroke-width="1.5"/><text x="235.4" y="530.2" font-size="8.3" font-weight="bold" text-anchor="middle">7</text><text x="204.8" y="540.1" font-size="8.7" font-weight="bold" text-anchor="middle">Days post inoculation</text><text transform="translate(143 512.1) rotate(-90)" font-size="8.6" font-weight="bold">Relative expression</text><text x="161.8" y="437.2" font-size="8.5"><tspan stroke="#000" stroke-width="0.4">(k)</tspan> <tspan font-weight="bold" font-style="italic">SABP2</tspan></text>
</svg>
</body></html>
